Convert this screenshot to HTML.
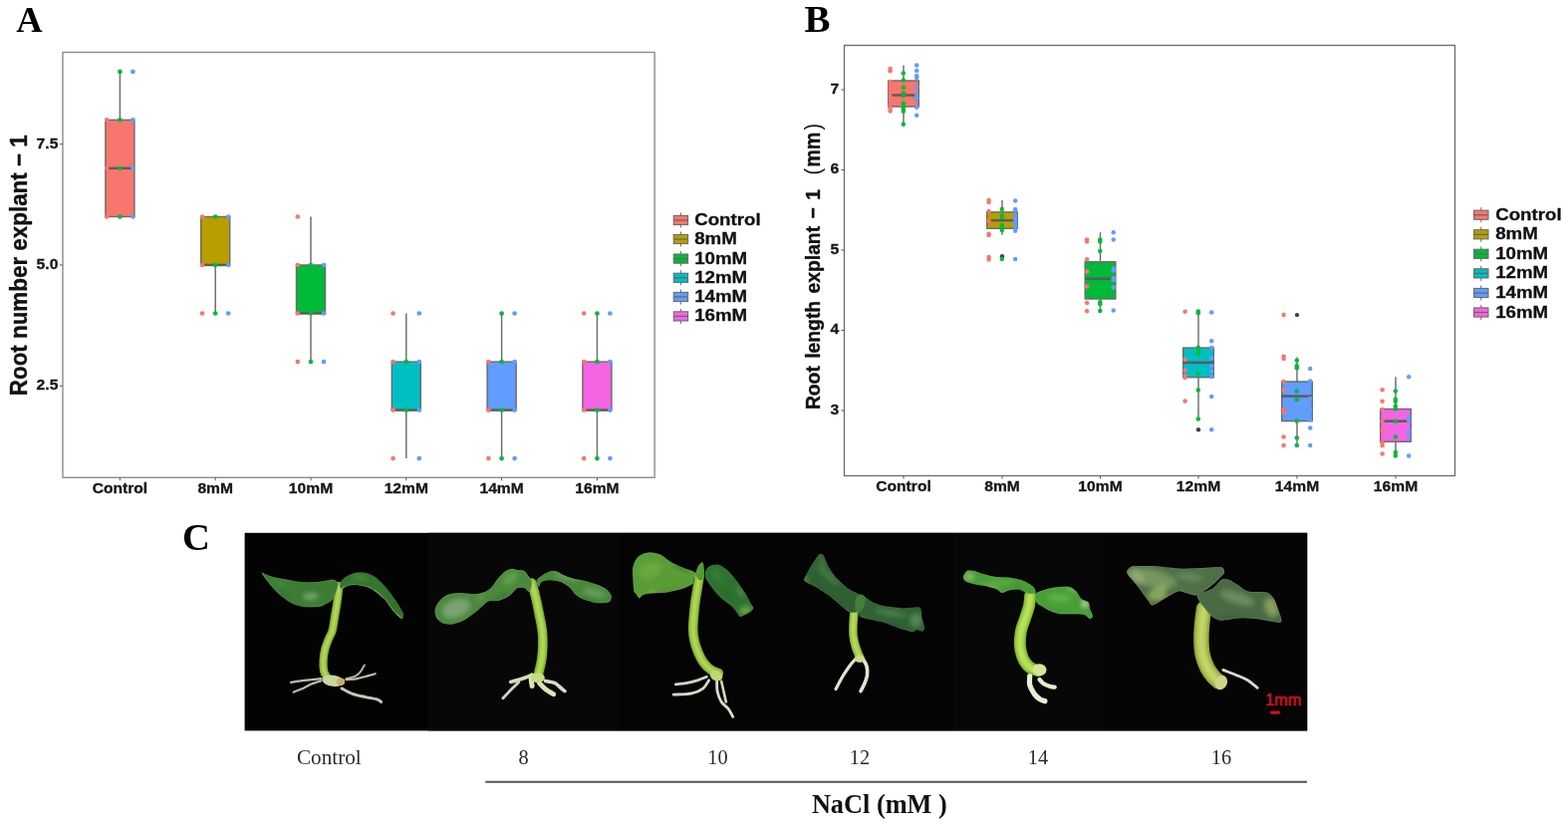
<!DOCTYPE html>
<html lang="en">
<head>
<meta charset="utf-8">
<title>Figure</title>
<style>
html,body{margin:0;padding:0;background:#fff;}
body{width:1574px;height:828px;overflow:hidden;}
svg{display:block;}
text{font-family:"Liberation Sans",sans-serif;fill:#111;}
.tk{font-size:15.1px;font-weight:bold;fill:#161616;stroke:#161616;stroke-width:0.3px;}
.xl{font-size:15.1px;font-weight:bold;fill:#161616;stroke:#161616;stroke-width:0.3px;}
.yl{font-size:22.4px;font-weight:bold;fill:#111;stroke:#111;stroke-width:0.35px;}
.lg{font-size:17px;font-weight:bold;fill:#111;stroke:#111;stroke-width:0.3px;}
.pl{font-family:"Liberation Serif",serif;font-size:37.5px;font-weight:bold;fill:#000;}
.cl{font-family:"Liberation Serif",serif;font-size:20.3px;fill:#2a2a2a;}
.na{font-family:"Liberation Serif",serif;font-size:26.3px;font-weight:bold;fill:#111;}
</style>
</head>
<body>
<svg width="1574" height="828" viewBox="0 0 1574 828">
<rect x="0" y="0" width="1574" height="828" fill="#ffffff"/>
<rect x="63" y="52.5" width="594.1" height="426.8" fill="#fff" stroke="#8c8c8c" stroke-width="1.4"/>
<line x1="120.4" y1="71.9" x2="120.4" y2="120.4" stroke="#6c6c6c" stroke-width="1.45"/>
<line x1="120.4" y1="217.5" x2="120.4" y2="217.5" stroke="#6c6c6c" stroke-width="1.45"/>
<rect x="105.9" y="120.4" width="29" height="97.1" fill="#F8766D" stroke="#6c6c6c" stroke-width="1.45"/>
<line x1="105.9" y1="168.9" x2="134.9" y2="168.9" stroke="#5c5c5c" stroke-width="2.4"/>
<line x1="216.2" y1="217.5" x2="216.2" y2="217.5" stroke="#6c6c6c" stroke-width="1.45"/>
<line x1="216.2" y1="266.0" x2="216.2" y2="314.5" stroke="#6c6c6c" stroke-width="1.45"/>
<rect x="201.7" y="217.5" width="29" height="48.5" fill="#B79F00" stroke="#6c6c6c" stroke-width="1.45"/>
<line x1="201.7" y1="266.0" x2="230.7" y2="266.0" stroke="#5c5c5c" stroke-width="2.4"/>
<line x1="312.0" y1="217.5" x2="312.0" y2="266.0" stroke="#6c6c6c" stroke-width="1.45"/>
<line x1="312.0" y1="314.5" x2="312.0" y2="363.1" stroke="#6c6c6c" stroke-width="1.45"/>
<rect x="297.5" y="266.0" width="29" height="48.5" fill="#00BA38" stroke="#6c6c6c" stroke-width="1.45"/>
<line x1="297.5" y1="314.5" x2="326.5" y2="314.5" stroke="#5c5c5c" stroke-width="2.4"/>
<line x1="407.8" y1="314.5" x2="407.8" y2="363.1" stroke="#6c6c6c" stroke-width="1.45"/>
<line x1="407.8" y1="411.6" x2="407.8" y2="460.1" stroke="#6c6c6c" stroke-width="1.45"/>
<rect x="393.3" y="363.1" width="29" height="48.5" fill="#00BFC4" stroke="#6c6c6c" stroke-width="1.45"/>
<line x1="393.3" y1="411.6" x2="422.3" y2="411.6" stroke="#5c5c5c" stroke-width="2.4"/>
<line x1="503.6" y1="314.5" x2="503.6" y2="363.1" stroke="#6c6c6c" stroke-width="1.45"/>
<line x1="503.6" y1="411.6" x2="503.6" y2="460.1" stroke="#6c6c6c" stroke-width="1.45"/>
<rect x="489.1" y="363.1" width="29" height="48.5" fill="#619CFF" stroke="#6c6c6c" stroke-width="1.45"/>
<line x1="489.1" y1="411.6" x2="518.1" y2="411.6" stroke="#5c5c5c" stroke-width="2.4"/>
<line x1="599.4" y1="314.5" x2="599.4" y2="363.1" stroke="#6c6c6c" stroke-width="1.45"/>
<line x1="599.4" y1="411.6" x2="599.4" y2="460.1" stroke="#6c6c6c" stroke-width="1.45"/>
<rect x="584.9" y="363.1" width="29" height="48.5" fill="#F564E3" stroke="#6c6c6c" stroke-width="1.45"/>
<line x1="584.9" y1="411.6" x2="613.9" y2="411.6" stroke="#5c5c5c" stroke-width="2.4"/>
<circle cx="107.2" cy="120.4" r="2.35" fill="#F8766D"/>
<circle cx="107.2" cy="168.9" r="2.35" fill="#F8766D"/>
<circle cx="107.2" cy="217.5" r="2.35" fill="#F8766D"/>
<circle cx="120.4" cy="71.9" r="2.35" fill="#00BA38"/>
<circle cx="120.4" cy="120.4" r="2.35" fill="#00BA38"/>
<circle cx="120.4" cy="168.9" r="2.35" fill="#00BA38"/>
<circle cx="120.4" cy="217.5" r="2.35" fill="#00BA38"/>
<circle cx="133.4" cy="71.9" r="2.35" fill="#619CFF"/>
<circle cx="133.4" cy="120.4" r="2.35" fill="#619CFF"/>
<circle cx="133.4" cy="168.9" r="2.35" fill="#619CFF"/>
<circle cx="133.4" cy="217.5" r="2.35" fill="#619CFF"/>
<circle cx="203.0" cy="217.5" r="2.35" fill="#F8766D"/>
<circle cx="203.0" cy="266.0" r="2.35" fill="#F8766D"/>
<circle cx="203.0" cy="314.5" r="2.35" fill="#F8766D"/>
<circle cx="216.2" cy="217.5" r="2.35" fill="#00BA38"/>
<circle cx="216.2" cy="266.0" r="2.35" fill="#00BA38"/>
<circle cx="216.2" cy="314.5" r="2.35" fill="#00BA38"/>
<circle cx="229.2" cy="217.5" r="2.35" fill="#619CFF"/>
<circle cx="229.2" cy="266.0" r="2.35" fill="#619CFF"/>
<circle cx="229.2" cy="314.5" r="2.35" fill="#619CFF"/>
<circle cx="298.8" cy="217.5" r="2.35" fill="#F8766D"/>
<circle cx="298.8" cy="266.0" r="2.35" fill="#F8766D"/>
<circle cx="298.8" cy="314.5" r="2.35" fill="#F8766D"/>
<circle cx="298.8" cy="363.1" r="2.35" fill="#F8766D"/>
<circle cx="312.0" cy="266.0" r="2.35" fill="#00BA38"/>
<circle cx="312.0" cy="314.5" r="2.35" fill="#00BA38"/>
<circle cx="312.0" cy="363.1" r="2.35" fill="#00BA38"/>
<circle cx="325.0" cy="266.0" r="2.35" fill="#619CFF"/>
<circle cx="325.0" cy="314.5" r="2.35" fill="#619CFF"/>
<circle cx="325.0" cy="363.1" r="2.35" fill="#619CFF"/>
<circle cx="394.6" cy="314.5" r="2.35" fill="#F8766D"/>
<circle cx="394.6" cy="363.1" r="2.35" fill="#F8766D"/>
<circle cx="394.6" cy="411.6" r="2.35" fill="#F8766D"/>
<circle cx="394.6" cy="460.1" r="2.35" fill="#F8766D"/>
<circle cx="407.8" cy="363.1" r="2.35" fill="#00BA38"/>
<circle cx="407.8" cy="411.6" r="2.35" fill="#00BA38"/>
<circle cx="420.8" cy="314.5" r="2.35" fill="#619CFF"/>
<circle cx="420.8" cy="363.1" r="2.35" fill="#619CFF"/>
<circle cx="420.8" cy="411.6" r="2.35" fill="#619CFF"/>
<circle cx="420.8" cy="460.1" r="2.35" fill="#619CFF"/>
<circle cx="490.4" cy="363.1" r="2.35" fill="#F8766D"/>
<circle cx="490.4" cy="411.6" r="2.35" fill="#F8766D"/>
<circle cx="490.4" cy="460.1" r="2.35" fill="#F8766D"/>
<circle cx="503.6" cy="314.5" r="2.35" fill="#00BA38"/>
<circle cx="503.6" cy="363.1" r="2.35" fill="#00BA38"/>
<circle cx="503.6" cy="411.6" r="2.35" fill="#00BA38"/>
<circle cx="503.6" cy="460.1" r="2.35" fill="#00BA38"/>
<circle cx="516.6" cy="314.5" r="2.35" fill="#619CFF"/>
<circle cx="516.6" cy="363.1" r="2.35" fill="#619CFF"/>
<circle cx="516.6" cy="411.6" r="2.35" fill="#619CFF"/>
<circle cx="516.6" cy="460.1" r="2.35" fill="#619CFF"/>
<circle cx="586.2" cy="314.5" r="2.35" fill="#F8766D"/>
<circle cx="586.2" cy="363.1" r="2.35" fill="#F8766D"/>
<circle cx="586.2" cy="411.6" r="2.35" fill="#F8766D"/>
<circle cx="586.2" cy="460.1" r="2.35" fill="#F8766D"/>
<circle cx="599.4" cy="314.5" r="2.35" fill="#00BA38"/>
<circle cx="599.4" cy="363.1" r="2.35" fill="#00BA38"/>
<circle cx="599.4" cy="411.6" r="2.35" fill="#00BA38"/>
<circle cx="599.4" cy="460.1" r="2.35" fill="#00BA38"/>
<circle cx="612.4" cy="314.5" r="2.35" fill="#619CFF"/>
<circle cx="612.4" cy="363.1" r="2.35" fill="#619CFF"/>
<circle cx="612.4" cy="411.6" r="2.35" fill="#619CFF"/>
<circle cx="612.4" cy="460.1" r="2.35" fill="#619CFF"/>
<line x1="60" y1="144.7" x2="63" y2="144.7" stroke="#555" stroke-width="1"/>
<text transform="translate(58.4,148.5) scale(1.04,1)" class="tk" text-anchor="end">7.5</text>
<line x1="60" y1="266.0" x2="63" y2="266.0" stroke="#555" stroke-width="1"/>
<text transform="translate(58.4,269.8) scale(1.04,1)" class="tk" text-anchor="end">5.0</text>
<line x1="60" y1="387.3" x2="63" y2="387.3" stroke="#555" stroke-width="1"/>
<text transform="translate(58.4,391.1) scale(1.04,1)" class="tk" text-anchor="end">2.5</text>
<line x1="120.4" y1="479.3" x2="120.4" y2="482.3" stroke="#555" stroke-width="1"/>
<text transform="translate(120.4,495.1) scale(1.035,1)" class="xl" text-anchor="middle">Control</text>
<line x1="216.2" y1="479.3" x2="216.2" y2="482.3" stroke="#555" stroke-width="1"/>
<text transform="translate(216.2,495.1) scale(1.035,1)" class="xl" text-anchor="middle">8mM</text>
<line x1="312.0" y1="479.3" x2="312.0" y2="482.3" stroke="#555" stroke-width="1"/>
<text transform="translate(312.0,495.1) scale(1.035,1)" class="xl" text-anchor="middle">10mM</text>
<line x1="407.8" y1="479.3" x2="407.8" y2="482.3" stroke="#555" stroke-width="1"/>
<text transform="translate(407.8,495.1) scale(1.035,1)" class="xl" text-anchor="middle">12mM</text>
<line x1="503.6" y1="479.3" x2="503.6" y2="482.3" stroke="#555" stroke-width="1"/>
<text transform="translate(503.6,495.1) scale(1.035,1)" class="xl" text-anchor="middle">14mM</text>
<line x1="599.4" y1="479.3" x2="599.4" y2="482.3" stroke="#555" stroke-width="1"/>
<text transform="translate(599.4,495.1) scale(1.035,1)" class="xl" text-anchor="middle">16mM</text>
<text transform="translate(26.6,397.2) rotate(-90) scale(1,1.07)" class="yl">Root number explant − 1</text>
<line x1="683.4000000000001" y1="213.5" x2="683.4000000000001" y2="228.5" stroke="#666" stroke-width="1"/>
<rect x="676.2" y="216.4" width="14.4" height="9.2" fill="#F8766D" stroke="#666" stroke-width="1"/>
<line x1="676.2" y1="221.0" x2="690.6" y2="221.0" stroke="#666" stroke-width="1.2"/>
<text transform="translate(697.2,226.0) scale(1.1,1)" class="lg">Control</text>
<line x1="683.4000000000001" y1="232.5" x2="683.4000000000001" y2="247.5" stroke="#666" stroke-width="1"/>
<rect x="676.2" y="235.4" width="14.4" height="9.2" fill="#B79F00" stroke="#666" stroke-width="1"/>
<line x1="676.2" y1="240.0" x2="690.6" y2="240.0" stroke="#666" stroke-width="1.2"/>
<text transform="translate(697.2,245.0) scale(1.1,1)" class="lg">8mM</text>
<line x1="683.4000000000001" y1="252.1" x2="683.4000000000001" y2="267.1" stroke="#666" stroke-width="1"/>
<rect x="676.2" y="255.0" width="14.4" height="9.2" fill="#00BA38" stroke="#666" stroke-width="1"/>
<line x1="676.2" y1="259.6" x2="690.6" y2="259.6" stroke="#666" stroke-width="1.2"/>
<text transform="translate(697.2,264.6) scale(1.1,1)" class="lg">10mM</text>
<line x1="683.4000000000001" y1="271.3" x2="683.4000000000001" y2="286.3" stroke="#666" stroke-width="1"/>
<rect x="676.2" y="274.2" width="14.4" height="9.2" fill="#00BFC4" stroke="#666" stroke-width="1"/>
<line x1="676.2" y1="278.8" x2="690.6" y2="278.8" stroke="#666" stroke-width="1.2"/>
<text transform="translate(697.2,283.8) scale(1.1,1)" class="lg">12mM</text>
<line x1="683.4000000000001" y1="290.5" x2="683.4000000000001" y2="305.5" stroke="#666" stroke-width="1"/>
<rect x="676.2" y="293.4" width="14.4" height="9.2" fill="#619CFF" stroke="#666" stroke-width="1"/>
<line x1="676.2" y1="298.0" x2="690.6" y2="298.0" stroke="#666" stroke-width="1.2"/>
<text transform="translate(697.2,303.0) scale(1.1,1)" class="lg">14mM</text>
<line x1="683.4000000000001" y1="309.9" x2="683.4000000000001" y2="324.9" stroke="#666" stroke-width="1"/>
<rect x="676.2" y="312.8" width="14.4" height="9.2" fill="#F564E3" stroke="#666" stroke-width="1"/>
<line x1="676.2" y1="317.4" x2="690.6" y2="317.4" stroke="#666" stroke-width="1.2"/>
<text transform="translate(697.2,322.4) scale(1.1,1)" class="lg">16mM</text>
<rect x="847.5" y="45.5" width="613.0" height="432.0" fill="#fff" stroke="#6e6e6e" stroke-width="1.35"/>
<line x1="907.0" y1="65.4" x2="907.0" y2="81.0" stroke="#6c6c6c" stroke-width="1.45"/>
<line x1="907.0" y1="107.0" x2="907.0" y2="124.8" stroke="#6c6c6c" stroke-width="1.45"/>
<rect x="891.7" y="81.0" width="30.6" height="26.0" fill="#F8766D" stroke="#6c6c6c" stroke-width="1.45"/>
<line x1="891.7" y1="95.5" x2="922.3" y2="95.5" stroke="#5c5c5c" stroke-width="2.5"/>
<line x1="1006.0" y1="201.0" x2="1006.0" y2="212.9" stroke="#6c6c6c" stroke-width="1.45"/>
<line x1="1006.0" y1="229.3" x2="1006.0" y2="235.7" stroke="#6c6c6c" stroke-width="1.45"/>
<rect x="990.7" y="212.9" width="30.6" height="16.4" fill="#B79F00" stroke="#6c6c6c" stroke-width="1.45"/>
<line x1="990.7" y1="221.2" x2="1021.3" y2="221.2" stroke="#5c5c5c" stroke-width="2.5"/>
<line x1="1104.5" y1="233.2" x2="1104.5" y2="262.8" stroke="#6c6c6c" stroke-width="1.45"/>
<line x1="1104.5" y1="300.0" x2="1104.5" y2="312.0" stroke="#6c6c6c" stroke-width="1.45"/>
<rect x="1089.2" y="262.8" width="30.6" height="37.2" fill="#00BA38" stroke="#6c6c6c" stroke-width="1.45"/>
<line x1="1089.2" y1="279.8" x2="1119.8" y2="279.8" stroke="#5c5c5c" stroke-width="2.5"/>
<line x1="1203.0" y1="312.8" x2="1203.0" y2="349.1" stroke="#6c6c6c" stroke-width="1.45"/>
<line x1="1203.0" y1="378.7" x2="1203.0" y2="420.4" stroke="#6c6c6c" stroke-width="1.45"/>
<rect x="1187.7" y="349.1" width="30.6" height="29.6" fill="#00BFC4" stroke="#6c6c6c" stroke-width="1.45"/>
<line x1="1187.7" y1="363.9" x2="1218.3" y2="363.9" stroke="#5c5c5c" stroke-width="2.5"/>
<line x1="1302.0" y1="358.5" x2="1302.0" y2="383.0" stroke="#6c6c6c" stroke-width="1.45"/>
<line x1="1302.0" y1="422.6" x2="1302.0" y2="447.2" stroke="#6c6c6c" stroke-width="1.45"/>
<rect x="1286.7" y="383.0" width="30.6" height="39.6" fill="#619CFF" stroke="#6c6c6c" stroke-width="1.45"/>
<line x1="1286.7" y1="397.6" x2="1317.3" y2="397.6" stroke="#5c5c5c" stroke-width="2.5"/>
<line x1="1401.0" y1="378.2" x2="1401.0" y2="410.5" stroke="#6c6c6c" stroke-width="1.45"/>
<line x1="1401.0" y1="443.3" x2="1401.0" y2="457.8" stroke="#6c6c6c" stroke-width="1.45"/>
<rect x="1385.7" y="410.5" width="30.6" height="32.8" fill="#F564E3" stroke="#6c6c6c" stroke-width="1.45"/>
<line x1="1385.7" y1="422.7" x2="1416.3" y2="422.7" stroke="#5c5c5c" stroke-width="2.5"/>
<circle cx="893.6" cy="69.0" r="2.25" fill="#F8766D"/>
<circle cx="893.6" cy="71.2" r="2.25" fill="#F8766D"/>
<circle cx="893.6" cy="82.0" r="2.25" fill="#F8766D"/>
<circle cx="893.6" cy="85.0" r="2.25" fill="#F8766D"/>
<circle cx="893.6" cy="89.0" r="2.25" fill="#F8766D"/>
<circle cx="893.6" cy="93.0" r="2.25" fill="#F8766D"/>
<circle cx="893.6" cy="97.0" r="2.25" fill="#F8766D"/>
<circle cx="893.6" cy="101.0" r="2.25" fill="#F8766D"/>
<circle cx="893.6" cy="105.0" r="2.25" fill="#F8766D"/>
<circle cx="893.6" cy="109.0" r="2.25" fill="#F8766D"/>
<circle cx="893.6" cy="111.5" r="2.25" fill="#F8766D"/>
<circle cx="906.8" cy="73.6" r="2.25" fill="#00BA38"/>
<circle cx="906.8" cy="80.6" r="2.25" fill="#00BA38"/>
<circle cx="906.8" cy="87.8" r="2.25" fill="#00BA38"/>
<circle cx="906.8" cy="93.6" r="2.25" fill="#00BA38"/>
<circle cx="906.8" cy="95.8" r="2.25" fill="#00BA38"/>
<circle cx="906.8" cy="103.8" r="2.25" fill="#00BA38"/>
<circle cx="906.8" cy="106.7" r="2.25" fill="#00BA38"/>
<circle cx="906.8" cy="109.6" r="2.25" fill="#00BA38"/>
<circle cx="906.8" cy="111.7" r="2.25" fill="#00BA38"/>
<circle cx="906.8" cy="124.8" r="2.25" fill="#00BA38"/>
<circle cx="920.2" cy="65.4" r="2.25" fill="#619CFF"/>
<circle cx="920.2" cy="70.9" r="2.25" fill="#619CFF"/>
<circle cx="920.2" cy="76.2" r="2.25" fill="#619CFF"/>
<circle cx="920.2" cy="78.0" r="2.25" fill="#619CFF"/>
<circle cx="920.2" cy="87.5" r="2.25" fill="#619CFF"/>
<circle cx="920.2" cy="95.0" r="2.25" fill="#619CFF"/>
<circle cx="920.2" cy="98.0" r="2.25" fill="#619CFF"/>
<circle cx="920.2" cy="99.4" r="2.25" fill="#619CFF"/>
<circle cx="920.2" cy="107.8" r="2.25" fill="#619CFF"/>
<circle cx="920.2" cy="115.8" r="2.25" fill="#619CFF"/>
<circle cx="1006.0" cy="257.3" r="2.2" fill="#444"/>
<circle cx="992.6" cy="201.0" r="2.25" fill="#F8766D"/>
<circle cx="992.6" cy="203.0" r="2.25" fill="#F8766D"/>
<circle cx="992.6" cy="212.0" r="2.25" fill="#F8766D"/>
<circle cx="992.6" cy="221.8" r="2.25" fill="#F8766D"/>
<circle cx="992.6" cy="234.7" r="2.25" fill="#F8766D"/>
<circle cx="992.6" cy="236.0" r="2.25" fill="#F8766D"/>
<circle cx="992.6" cy="258.0" r="2.25" fill="#F8766D"/>
<circle cx="992.6" cy="260.4" r="2.25" fill="#F8766D"/>
<circle cx="1005.8" cy="210.0" r="2.25" fill="#00BA38"/>
<circle cx="1005.8" cy="216.4" r="2.25" fill="#00BA38"/>
<circle cx="1005.8" cy="218.0" r="2.25" fill="#00BA38"/>
<circle cx="1005.8" cy="226.0" r="2.25" fill="#00BA38"/>
<circle cx="1005.8" cy="228.0" r="2.25" fill="#00BA38"/>
<circle cx="1005.8" cy="231.0" r="2.25" fill="#00BA38"/>
<circle cx="1005.8" cy="259.9" r="2.25" fill="#00BA38"/>
<circle cx="1019.2" cy="201.5" r="2.25" fill="#619CFF"/>
<circle cx="1019.2" cy="210.0" r="2.25" fill="#619CFF"/>
<circle cx="1019.2" cy="211.5" r="2.25" fill="#619CFF"/>
<circle cx="1019.2" cy="216.4" r="2.25" fill="#619CFF"/>
<circle cx="1019.2" cy="219.0" r="2.25" fill="#619CFF"/>
<circle cx="1019.2" cy="222.0" r="2.25" fill="#619CFF"/>
<circle cx="1019.2" cy="225.0" r="2.25" fill="#619CFF"/>
<circle cx="1019.2" cy="228.0" r="2.25" fill="#619CFF"/>
<circle cx="1019.2" cy="231.8" r="2.25" fill="#619CFF"/>
<circle cx="1019.2" cy="259.9" r="2.25" fill="#619CFF"/>
<circle cx="1091.1" cy="240.5" r="2.25" fill="#F8766D"/>
<circle cx="1091.1" cy="242.5" r="2.25" fill="#F8766D"/>
<circle cx="1091.1" cy="260.2" r="2.25" fill="#F8766D"/>
<circle cx="1091.1" cy="272.4" r="2.25" fill="#F8766D"/>
<circle cx="1091.1" cy="287.5" r="2.25" fill="#F8766D"/>
<circle cx="1091.1" cy="303.9" r="2.25" fill="#F8766D"/>
<circle cx="1091.1" cy="312.2" r="2.25" fill="#F8766D"/>
<circle cx="1104.3" cy="240.5" r="2.25" fill="#00BA38"/>
<circle cx="1104.3" cy="242.5" r="2.25" fill="#00BA38"/>
<circle cx="1104.3" cy="252.1" r="2.25" fill="#00BA38"/>
<circle cx="1104.3" cy="303.3" r="2.25" fill="#00BA38"/>
<circle cx="1104.3" cy="305.3" r="2.25" fill="#00BA38"/>
<circle cx="1104.3" cy="312.0" r="2.25" fill="#00BA38"/>
<circle cx="1117.7" cy="233.2" r="2.25" fill="#619CFF"/>
<circle cx="1117.7" cy="240.5" r="2.25" fill="#619CFF"/>
<circle cx="1117.7" cy="269.5" r="2.25" fill="#619CFF"/>
<circle cx="1117.7" cy="271.4" r="2.25" fill="#619CFF"/>
<circle cx="1117.7" cy="279.2" r="2.25" fill="#619CFF"/>
<circle cx="1117.7" cy="281.1" r="2.25" fill="#619CFF"/>
<circle cx="1117.7" cy="288.5" r="2.25" fill="#619CFF"/>
<circle cx="1117.7" cy="311.4" r="2.25" fill="#619CFF"/>
<circle cx="1203.0" cy="431.3" r="2.2" fill="#444"/>
<circle cx="1189.6" cy="312.8" r="2.25" fill="#F8766D"/>
<circle cx="1189.6" cy="360.7" r="2.25" fill="#F8766D"/>
<circle cx="1189.6" cy="371.5" r="2.25" fill="#F8766D"/>
<circle cx="1189.6" cy="377.0" r="2.25" fill="#F8766D"/>
<circle cx="1189.6" cy="379.1" r="2.25" fill="#F8766D"/>
<circle cx="1189.6" cy="402.4" r="2.25" fill="#F8766D"/>
<circle cx="1202.8" cy="312.4" r="2.25" fill="#00BA38"/>
<circle cx="1202.8" cy="314.3" r="2.25" fill="#00BA38"/>
<circle cx="1202.8" cy="348.7" r="2.25" fill="#00BA38"/>
<circle cx="1202.8" cy="353.0" r="2.25" fill="#00BA38"/>
<circle cx="1202.8" cy="355.2" r="2.25" fill="#00BA38"/>
<circle cx="1202.8" cy="374.8" r="2.25" fill="#00BA38"/>
<circle cx="1202.8" cy="391.5" r="2.25" fill="#00BA38"/>
<circle cx="1202.8" cy="420.4" r="2.25" fill="#00BA38"/>
<circle cx="1216.2" cy="313.5" r="2.25" fill="#619CFF"/>
<circle cx="1216.2" cy="342.2" r="2.25" fill="#619CFF"/>
<circle cx="1216.2" cy="349.1" r="2.25" fill="#619CFF"/>
<circle cx="1216.2" cy="359.6" r="2.25" fill="#619CFF"/>
<circle cx="1216.2" cy="367.2" r="2.25" fill="#619CFF"/>
<circle cx="1216.2" cy="372.6" r="2.25" fill="#619CFF"/>
<circle cx="1216.2" cy="378.0" r="2.25" fill="#619CFF"/>
<circle cx="1216.2" cy="398.0" r="2.25" fill="#619CFF"/>
<circle cx="1216.2" cy="431.3" r="2.25" fill="#619CFF"/>
<circle cx="1302.0" cy="316.1" r="2.2" fill="#444"/>
<circle cx="1288.6" cy="316.1" r="2.25" fill="#F8766D"/>
<circle cx="1288.6" cy="357.8" r="2.25" fill="#F8766D"/>
<circle cx="1288.6" cy="360.0" r="2.25" fill="#F8766D"/>
<circle cx="1288.6" cy="383.0" r="2.25" fill="#F8766D"/>
<circle cx="1288.6" cy="391.1" r="2.25" fill="#F8766D"/>
<circle cx="1288.6" cy="410.7" r="2.25" fill="#F8766D"/>
<circle cx="1288.6" cy="413.9" r="2.25" fill="#F8766D"/>
<circle cx="1288.6" cy="438.5" r="2.25" fill="#F8766D"/>
<circle cx="1288.6" cy="447.0" r="2.25" fill="#F8766D"/>
<circle cx="1301.8" cy="361.7" r="2.25" fill="#00BA38"/>
<circle cx="1301.8" cy="367.2" r="2.25" fill="#00BA38"/>
<circle cx="1301.8" cy="369.3" r="2.25" fill="#00BA38"/>
<circle cx="1301.8" cy="392.6" r="2.25" fill="#00BA38"/>
<circle cx="1301.8" cy="401.3" r="2.25" fill="#00BA38"/>
<circle cx="1301.8" cy="422.6" r="2.25" fill="#00BA38"/>
<circle cx="1301.8" cy="439.6" r="2.25" fill="#00BA38"/>
<circle cx="1301.8" cy="447.0" r="2.25" fill="#00BA38"/>
<circle cx="1315.2" cy="370.0" r="2.25" fill="#619CFF"/>
<circle cx="1315.2" cy="382.5" r="2.25" fill="#619CFF"/>
<circle cx="1315.2" cy="400.0" r="2.25" fill="#619CFF"/>
<circle cx="1315.2" cy="412.0" r="2.25" fill="#619CFF"/>
<circle cx="1315.2" cy="421.5" r="2.25" fill="#619CFF"/>
<circle cx="1315.2" cy="429.6" r="2.25" fill="#619CFF"/>
<circle cx="1315.2" cy="447.0" r="2.25" fill="#619CFF"/>
<circle cx="1387.6" cy="391.2" r="2.25" fill="#F8766D"/>
<circle cx="1387.6" cy="402.8" r="2.25" fill="#F8766D"/>
<circle cx="1387.6" cy="411.0" r="2.25" fill="#F8766D"/>
<circle cx="1387.6" cy="422.7" r="2.25" fill="#F8766D"/>
<circle cx="1387.6" cy="431.7" r="2.25" fill="#F8766D"/>
<circle cx="1387.6" cy="444.3" r="2.25" fill="#F8766D"/>
<circle cx="1387.6" cy="447.2" r="2.25" fill="#F8766D"/>
<circle cx="1387.6" cy="455.5" r="2.25" fill="#F8766D"/>
<circle cx="1400.8" cy="392.5" r="2.25" fill="#00BA38"/>
<circle cx="1400.8" cy="400.8" r="2.25" fill="#00BA38"/>
<circle cx="1400.8" cy="402.8" r="2.25" fill="#00BA38"/>
<circle cx="1400.8" cy="407.6" r="2.25" fill="#00BA38"/>
<circle cx="1400.8" cy="410.5" r="2.25" fill="#00BA38"/>
<circle cx="1400.8" cy="422.7" r="2.25" fill="#00BA38"/>
<circle cx="1400.8" cy="438.5" r="2.25" fill="#00BA38"/>
<circle cx="1400.8" cy="454.0" r="2.25" fill="#00BA38"/>
<circle cx="1400.8" cy="457.4" r="2.25" fill="#00BA38"/>
<circle cx="1414.2" cy="378.2" r="2.25" fill="#619CFF"/>
<circle cx="1414.2" cy="418.0" r="2.25" fill="#619CFF"/>
<circle cx="1414.2" cy="423.0" r="2.25" fill="#619CFF"/>
<circle cx="1414.2" cy="432.7" r="2.25" fill="#619CFF"/>
<circle cx="1414.2" cy="438.5" r="2.25" fill="#619CFF"/>
<circle cx="1414.2" cy="457.4" r="2.25" fill="#619CFF"/>
<line x1="844.5" y1="90.0" x2="847.5" y2="90.0" stroke="#555" stroke-width="1"/>
<text transform="translate(842.2,93.8) scale(1.04,1)" class="tk" text-anchor="end">7</text>
<line x1="844.5" y1="170.5" x2="847.5" y2="170.5" stroke="#555" stroke-width="1"/>
<text transform="translate(842.2,174.3) scale(1.04,1)" class="tk" text-anchor="end">6</text>
<line x1="844.5" y1="251.0" x2="847.5" y2="251.0" stroke="#555" stroke-width="1"/>
<text transform="translate(842.2,254.8) scale(1.04,1)" class="tk" text-anchor="end">5</text>
<line x1="844.5" y1="331.5" x2="847.5" y2="331.5" stroke="#555" stroke-width="1"/>
<text transform="translate(842.2,335.3) scale(1.04,1)" class="tk" text-anchor="end">4</text>
<line x1="844.5" y1="412.0" x2="847.5" y2="412.0" stroke="#555" stroke-width="1"/>
<text transform="translate(842.2,415.8) scale(1.04,1)" class="tk" text-anchor="end">3</text>
<line x1="907" y1="477.5" x2="907" y2="480.5" stroke="#555" stroke-width="1"/>
<text transform="translate(907,492.7) scale(1.035,1)" class="xl" text-anchor="middle">Control</text>
<line x1="1006" y1="477.5" x2="1006" y2="480.5" stroke="#555" stroke-width="1"/>
<text transform="translate(1006,492.7) scale(1.035,1)" class="xl" text-anchor="middle">8mM</text>
<line x1="1104.5" y1="477.5" x2="1104.5" y2="480.5" stroke="#555" stroke-width="1"/>
<text transform="translate(1104.5,492.7) scale(1.035,1)" class="xl" text-anchor="middle">10mM</text>
<line x1="1203" y1="477.5" x2="1203" y2="480.5" stroke="#555" stroke-width="1"/>
<text transform="translate(1203,492.7) scale(1.035,1)" class="xl" text-anchor="middle">12mM</text>
<line x1="1302" y1="477.5" x2="1302" y2="480.5" stroke="#555" stroke-width="1"/>
<text transform="translate(1302,492.7) scale(1.035,1)" class="xl" text-anchor="middle">14mM</text>
<line x1="1401" y1="477.5" x2="1401" y2="480.5" stroke="#555" stroke-width="1"/>
<text transform="translate(1401,492.7) scale(1.035,1)" class="xl" text-anchor="middle">16mM</text>
<text transform="translate(822.6,411.1) rotate(-90) scale(1,1.07)" class="yl" style="font-size:19.3px;word-spacing:2.1px">Root length explant − 1</text>
<text transform="translate(822.6,175.4) rotate(-90) scale(1,1.07)" class="yl" style="font-size:19.8px"><tspan style="font-weight:normal;stroke:none">(</tspan><tspan dx="1">mm</tspan><tspan dx="2.2" style="font-weight:normal;stroke:none">)</tspan></text>
<line x1="1486.8" y1="208.2" x2="1486.8" y2="223.2" stroke="#666" stroke-width="1"/>
<rect x="1479.6" y="211.1" width="14.4" height="9.2" fill="#F8766D" stroke="#666" stroke-width="1"/>
<line x1="1479.6" y1="215.7" x2="1494.0" y2="215.7" stroke="#666" stroke-width="1.2"/>
<text transform="translate(1501.2,220.7) scale(1.1,1)" class="lg">Control</text>
<line x1="1486.8" y1="227.8" x2="1486.8" y2="242.8" stroke="#666" stroke-width="1"/>
<rect x="1479.6" y="230.7" width="14.4" height="9.2" fill="#B79F00" stroke="#666" stroke-width="1"/>
<line x1="1479.6" y1="235.3" x2="1494.0" y2="235.3" stroke="#666" stroke-width="1.2"/>
<text transform="translate(1501.2,240.3) scale(1.1,1)" class="lg">8mM</text>
<line x1="1486.8" y1="247.3" x2="1486.8" y2="262.3" stroke="#666" stroke-width="1"/>
<rect x="1479.6" y="250.2" width="14.4" height="9.2" fill="#00BA38" stroke="#666" stroke-width="1"/>
<line x1="1479.6" y1="254.8" x2="1494.0" y2="254.8" stroke="#666" stroke-width="1.2"/>
<text transform="translate(1501.2,259.8) scale(1.1,1)" class="lg">10mM</text>
<line x1="1486.8" y1="266.9" x2="1486.8" y2="281.9" stroke="#666" stroke-width="1"/>
<rect x="1479.6" y="269.8" width="14.4" height="9.2" fill="#00BFC4" stroke="#666" stroke-width="1"/>
<line x1="1479.6" y1="274.4" x2="1494.0" y2="274.4" stroke="#666" stroke-width="1.2"/>
<text transform="translate(1501.2,279.4) scale(1.1,1)" class="lg">12mM</text>
<line x1="1486.8" y1="286.5" x2="1486.8" y2="301.5" stroke="#666" stroke-width="1"/>
<rect x="1479.6" y="289.4" width="14.4" height="9.2" fill="#619CFF" stroke="#666" stroke-width="1"/>
<line x1="1479.6" y1="294.0" x2="1494.0" y2="294.0" stroke="#666" stroke-width="1.2"/>
<text transform="translate(1501.2,299.0) scale(1.1,1)" class="lg">14mM</text>
<line x1="1486.8" y1="306.0" x2="1486.8" y2="321.0" stroke="#666" stroke-width="1"/>
<rect x="1479.6" y="308.9" width="14.4" height="9.2" fill="#F564E3" stroke="#666" stroke-width="1"/>
<line x1="1479.6" y1="313.5" x2="1494.0" y2="313.5" stroke="#666" stroke-width="1.2"/>
<text transform="translate(1501.2,318.5) scale(1.1,1)" class="lg">16mM</text>
<text x="16.2" y="32" class="pl" style="font-size:36.5px">A</text>
<text transform="translate(807.4,31.6) scale(1.04,1)" class="pl">B</text>
<text x="183" y="551.8" class="pl" style="font-size:38.6px">C</text>
<rect x="245.6" y="534.8" width="1066.6" height="198.6" fill="#030303"/>
<defs>
<filter id="soft" x="-5%" y="-5%" width="110%" height="110%"><feGaussianBlur stdDeviation="0.65"/></filter>
<filter id="hl" x="-40%" y="-40%" width="180%" height="180%"><feGaussianBlur stdDeviation="2.6"/></filter>
<filter id="hs" x="-40%" y="-40%" width="180%" height="180%"><feGaussianBlur stdDeviation="1.0"/></filter>
</defs>
<rect x="430" y="534.8" width="192" height="198.6" fill="#070707"/>
<rect x="622" y="534.8" width="335" height="198.6" fill="#040404"/>
<rect x="957" y="534.8" width="150" height="198.6" fill="#070707"/>
<rect x="1107" y="534.8" width="205.2" height="198.6" fill="#050505"/>
<g filter="url(#soft)">
<path d="M340.4,588.0 C340.1,590.3 339.5,597.0 338.8,602.0 C338.1,607.0 337.1,612.8 336.2,618.0 C335.3,623.2 334.6,629.2 333.6,633.0 C332.6,636.8 331.2,637.7 330.0,640.9 C328.8,644.0 327.1,648.1 326.2,651.7 C325.3,655.4 324.7,659.0 324.6,662.6 C324.4,666.2 324.6,670.8 325.1,673.5 C325.7,676.2 327.4,678.0 327.8,678.9" fill="none" stroke="#7aa236" stroke-width="8.0" stroke-linecap="round"/><path d="M340.4,588.0 C340.1,590.3 339.5,597.0 338.8,602.0 C338.1,607.0 337.1,612.8 336.2,618.0 C335.3,623.2 334.6,629.2 333.6,633.0 C332.6,636.8 331.2,637.7 330.0,640.9 C328.8,644.0 327.1,648.1 326.2,651.7 C325.3,655.4 324.7,659.0 324.6,662.6 C324.4,666.2 324.6,670.8 325.1,673.5 C325.7,676.2 327.4,678.0 327.8,678.9" fill="none" stroke="#a2cc48" stroke-width="5.9" stroke-linecap="round" filter="url(#hs)"/><path d="M340.4,588.0 C340.1,590.3 339.5,597.0 338.8,602.0 C338.1,607.0 337.1,612.8 336.2,618.0 C335.3,623.2 334.6,629.2 333.6,633.0 C332.6,636.8 331.2,637.7 330.0,640.9 C328.8,644.0 327.1,648.1 326.2,651.7 C325.3,655.4 324.7,659.0 324.6,662.6 C324.4,666.2 324.6,670.8 325.1,673.5 C325.7,676.2 327.4,678.0 327.8,678.9" fill="none" stroke="#c8e274" stroke-width="2.4" stroke-linecap="round" opacity="0.55" filter="url(#hs)"/><clipPath id="c1"><path d="M263.1,574.7 C264.0,574.5 268.1,577.3 271.3,578.2 C274.4,579.1 280.9,580.4 285.5,581.3 C290.0,582.1 298.8,584.0 303.8,584.3 C308.8,584.7 316.8,584.2 321.1,583.8 C325.3,583.4 331.7,581.4 334.3,581.8 C336.8,582.1 339.2,583.9 339.3,586.3 C339.5,588.8 336.6,597.0 335.3,599.6 C334.0,602.1 332.2,603.4 330.2,604.6 C328.2,605.9 324.2,608.1 321.1,608.7 C317.9,609.3 311.4,609.5 307.8,609.2 C304.3,608.9 298.8,607.9 295.7,606.7 C292.5,605.5 288.3,602.7 285.5,600.6 C282.6,598.4 278.2,594.4 275.3,591.4 C272.5,588.4 266.9,581.6 265.2,579.2 C263.5,576.9 262.3,574.8 263.1,574.7 Z"/></clipPath><path d="M263.1,574.7 C264.0,574.5 268.1,577.3 271.3,578.2 C274.4,579.1 280.9,580.4 285.5,581.3 C290.0,582.1 298.8,584.0 303.8,584.3 C308.8,584.7 316.8,584.2 321.1,583.8 C325.3,583.4 331.7,581.4 334.3,581.8 C336.8,582.1 339.2,583.9 339.3,586.3 C339.5,588.8 336.6,597.0 335.3,599.6 C334.0,602.1 332.2,603.4 330.2,604.6 C328.2,605.9 324.2,608.1 321.1,608.7 C317.9,609.3 311.4,609.5 307.8,609.2 C304.3,608.9 298.8,607.9 295.7,606.7 C292.5,605.5 288.3,602.7 285.5,600.6 C282.6,598.4 278.2,594.4 275.3,591.4 C272.5,588.4 266.9,581.6 265.2,579.2 C263.5,576.9 262.3,574.8 263.1,574.7 Z" fill="#3c7c34"/><g clip-path="url(#c1)"><ellipse cx="311.9" cy="598.5" rx="8" ry="3.4" fill="#9cc8a0" opacity="0.58" transform="rotate(-5 311.9 598.5)" filter="url(#hl)"/><ellipse cx="280.4" cy="585.3" rx="9" ry="2.4" fill="#5a9c40" opacity="0.50" transform="rotate(22 280.4 585.3)" filter="url(#hl)"/><ellipse cx="285.5" cy="598.5" rx="8" ry="2.5" fill="#2f6a28" opacity="0.50" transform="rotate(35 285.5 598.5)" filter="url(#hl)"/><path d="M263.1,574.7 C264.0,574.5 268.1,577.3 271.3,578.2 C274.4,579.1 280.9,580.4 285.5,581.3 C290.0,582.1 298.8,584.0 303.8,584.3 C308.8,584.7 316.8,584.2 321.1,583.8 C325.3,583.4 331.7,581.4 334.3,581.8 C336.8,582.1 339.2,583.9 339.3,586.3 C339.5,588.8 336.6,597.0 335.3,599.6 C334.0,602.1 332.2,603.4 330.2,604.6 C328.2,605.9 324.2,608.1 321.1,608.7 C317.9,609.3 311.4,609.5 307.8,609.2 C304.3,608.9 298.8,607.9 295.7,606.7 C292.5,605.5 288.3,602.7 285.5,600.6 C282.6,598.4 278.2,594.4 275.3,591.4 C272.5,588.4 266.9,581.6 265.2,579.2 C263.5,576.9 262.3,574.8 263.1,574.7 Z" fill="none" stroke="#86b85a" stroke-width="1.2" opacity="0.4"/></g><clipPath id="c2"><path d="M341.4,585.3 C342.0,583.6 344.3,580.7 346.5,579.2 C348.6,577.7 353.8,575.3 356.6,574.7 C359.5,574.0 363.9,574.0 366.8,574.7 C369.6,575.3 373.8,576.9 377.0,579.2 C380.1,581.6 386.0,587.7 389.1,591.4 C392.3,595.1 397.1,602.2 399.3,605.7 C401.5,609.1 404.3,613.7 404.9,615.8 C405.5,617.9 404.7,621.2 403.4,620.9 C402.0,620.6 397.8,616.6 395.2,613.8 C392.7,610.9 388.4,603.8 385.1,600.6 C381.8,597.3 375.9,592.3 371.9,590.4 C367.9,588.5 360.2,587.1 356.6,586.8 C353.1,586.6 348.5,588.2 346.5,588.9 C344.5,589.5 343.1,591.9 342.4,591.4 C341.7,590.9 340.8,587.0 341.4,585.3 Z"/></clipPath><path d="M341.4,585.3 C342.0,583.6 344.3,580.7 346.5,579.2 C348.6,577.7 353.8,575.3 356.6,574.7 C359.5,574.0 363.9,574.0 366.8,574.7 C369.6,575.3 373.8,576.9 377.0,579.2 C380.1,581.6 386.0,587.7 389.1,591.4 C392.3,595.1 397.1,602.2 399.3,605.7 C401.5,609.1 404.3,613.7 404.9,615.8 C405.5,617.9 404.7,621.2 403.4,620.9 C402.0,620.6 397.8,616.6 395.2,613.8 C392.7,610.9 388.4,603.8 385.1,600.6 C381.8,597.3 375.9,592.3 371.9,590.4 C367.9,588.5 360.2,587.1 356.6,586.8 C353.1,586.6 348.5,588.2 346.5,588.9 C344.5,589.5 343.1,591.9 342.4,591.4 C341.7,590.9 340.8,587.0 341.4,585.3 Z" fill="#34742d"/><g clip-path="url(#c2)"><ellipse cx="361.7" cy="580.2" rx="9" ry="2.6" fill="#5a9c44" opacity="0.58" transform="rotate(8 361.7 580.2)" filter="url(#hl)"/><ellipse cx="395.2" cy="605.7" rx="7" ry="2" fill="#2f6c28" opacity="0.50" transform="rotate(55 395.2 605.7)" filter="url(#hl)"/><path d="M342.4,591.6 C343.0,591.3 344.5,589.8 346.5,589.2 C348.5,588.6 353.1,586.9 356.6,587.2 C360.2,587.4 367.9,588.9 371.9,590.8 C375.9,592.7 381.8,597.7 385.1,601.0 C388.4,604.2 392.7,611.4 395.2,614.2 C397.8,617.0 402.2,620.1 403.4,621.1" fill="none" stroke="#b0cc88" stroke-width="1.6" opacity="0.9"/></g><path d="M322.4,681.1 C320.8,681.3 316.1,681.8 312.6,682.2 C309.2,682.5 305.2,682.8 301.7,683.3 C298.3,683.7 293.6,684.6 292.0,684.9" fill="none" stroke="#bcbcaa" stroke-width="2.2" stroke-linecap="round" stroke-linejoin="round"/><path d="M322.4,683.3 C320.8,683.8 315.7,685.3 312.6,686.5 C309.5,687.8 306.9,689.5 303.9,690.9 C300.9,692.2 296.2,694.0 294.7,694.7" fill="none" stroke="#b8b8a6" stroke-width="2.2" stroke-linecap="round" stroke-linejoin="round"/><path d="M347.4,681.1 C348.8,680.7 353.7,680.0 356.1,678.9 C358.4,677.8 359.9,676.5 361.5,674.6 C363.2,672.7 365.1,668.7 365.9,667.5" fill="none" stroke="#b4b4a4" stroke-width="2.0" stroke-linecap="round" stroke-linejoin="round"/><path d="M347.4,682.2 C349.2,682.0 354.6,681.7 358.3,681.1 C361.9,680.5 366.1,679.2 369.1,678.4 C372.2,677.6 375.5,676.6 376.7,676.2" fill="none" stroke="#bcbcaa" stroke-width="2.2" stroke-linecap="round" stroke-linejoin="round"/><path d="M343.0,690.9 C344.9,691.8 349.9,694.9 353.9,696.3 C357.9,697.8 363.0,698.7 367.0,699.6 C370.9,700.5 375.2,700.9 377.8,701.7 C380.5,702.6 381.9,704.0 382.7,704.5" fill="none" stroke="#c8c8b8" stroke-width="2.9" stroke-linecap="round" stroke-linejoin="round"/><ellipse cx="334.3" cy="683.3" rx="11" ry="5.6" fill="#c8d6a0" transform="rotate(8 334.3 683.3)" /><ellipse cx="342.0" cy="684.3" rx="4.2" ry="3.8" fill="#c8b060" transform="rotate(0 342.0 684.3)" />
</g>
<g filter="url(#soft)">
<path d="M533.8,585.0 C534.4,587.2 536.2,593.0 537.4,598.0 C538.6,603.0 539.9,609.3 541.0,615.0 C542.1,620.7 543.5,626.9 544.2,632.0 C544.9,637.1 545.0,640.6 544.9,645.4 C544.9,650.2 544.5,656.2 543.9,660.8 C543.3,665.4 542.0,670.0 541.3,673.1 C540.7,676.2 540.1,678.3 539.8,679.3" fill="none" stroke="#78a432" stroke-width="9.4" stroke-linecap="round"/><path d="M533.8,585.0 C534.4,587.2 536.2,593.0 537.4,598.0 C538.6,603.0 539.9,609.3 541.0,615.0 C542.1,620.7 543.5,626.9 544.2,632.0 C544.9,637.1 545.0,640.6 544.9,645.4 C544.9,650.2 544.5,656.2 543.9,660.8 C543.3,665.4 542.0,670.0 541.3,673.1 C540.7,676.2 540.1,678.3 539.8,679.3" fill="none" stroke="#9ed044" stroke-width="7.0" stroke-linecap="round" filter="url(#hs)"/><path d="M533.8,585.0 C534.4,587.2 536.2,593.0 537.4,598.0 C538.6,603.0 539.9,609.3 541.0,615.0 C542.1,620.7 543.5,626.9 544.2,632.0 C544.9,637.1 545.0,640.6 544.9,645.4 C544.9,650.2 544.5,656.2 543.9,660.8 C543.3,665.4 542.0,670.0 541.3,673.1 C540.7,676.2 540.1,678.3 539.8,679.3" fill="none" stroke="#c8e274" stroke-width="2.8" stroke-linecap="round" opacity="0.55" filter="url(#hs)"/><clipPath id="c3"><path d="M526.6,573.3 C524.5,571.6 521.2,572.4 519.3,572.1 C517.5,571.7 515.0,570.7 513.3,570.9 C511.6,571.0 509.1,571.9 507.3,573.3 C505.4,574.6 502.0,578.2 500.0,580.5 C498.0,582.9 494.8,588.2 492.8,590.2 C490.7,592.1 487.9,593.6 485.5,594.4 C483.2,595.2 479.4,596.1 475.9,596.2 C472.3,596.3 464.1,594.8 460.2,595.0 C456.3,595.2 450.8,596.2 448.1,597.4 C445.4,598.6 442.5,601.4 440.9,603.5 C439.3,605.5 437.0,609.5 436.6,611.9 C436.3,614.3 437.2,618.4 438.5,620.4 C439.7,622.3 443.5,624.9 445.7,625.8 C447.9,626.6 451.4,626.8 454.1,626.4 C456.8,626.0 462.0,624.3 465.0,622.8 C468.0,621.3 473.2,617.6 475.9,615.5 C478.6,613.5 482.3,610.0 484.3,608.3 C486.3,606.6 488.2,604.2 490.4,603.5 C492.6,602.7 497.5,603.4 500.0,602.9 C502.5,602.3 506.4,600.9 508.5,599.8 C510.5,598.7 513.0,596.4 514.5,595.0 C516.0,593.7 517.6,590.9 519.3,590.2 C521.0,589.5 524.9,589.7 526.6,590.2 C528.3,590.7 530.4,594.6 531.4,593.8 C532.4,593.0 534.5,587.0 533.8,584.1 C533.1,581.3 528.6,575.0 526.6,573.3 Z"/></clipPath><path d="M526.6,573.3 C524.5,571.6 521.2,572.4 519.3,572.1 C517.5,571.7 515.0,570.7 513.3,570.9 C511.6,571.0 509.1,571.9 507.3,573.3 C505.4,574.6 502.0,578.2 500.0,580.5 C498.0,582.9 494.8,588.2 492.8,590.2 C490.7,592.1 487.9,593.6 485.5,594.4 C483.2,595.2 479.4,596.1 475.9,596.2 C472.3,596.3 464.1,594.8 460.2,595.0 C456.3,595.2 450.8,596.2 448.1,597.4 C445.4,598.6 442.5,601.4 440.9,603.5 C439.3,605.5 437.0,609.5 436.6,611.9 C436.3,614.3 437.2,618.4 438.5,620.4 C439.7,622.3 443.5,624.9 445.7,625.8 C447.9,626.6 451.4,626.8 454.1,626.4 C456.8,626.0 462.0,624.3 465.0,622.8 C468.0,621.3 473.2,617.6 475.9,615.5 C478.6,613.5 482.3,610.0 484.3,608.3 C486.3,606.6 488.2,604.2 490.4,603.5 C492.6,602.7 497.5,603.4 500.0,602.9 C502.5,602.3 506.4,600.9 508.5,599.8 C510.5,598.7 513.0,596.4 514.5,595.0 C516.0,593.7 517.6,590.9 519.3,590.2 C521.0,589.5 524.9,589.7 526.6,590.2 C528.3,590.7 530.4,594.6 531.4,593.8 C532.4,593.0 534.5,587.0 533.8,584.1 C533.1,581.3 528.6,575.0 526.6,573.3 Z" fill="#4b883d"/><g clip-path="url(#c3)"><ellipse cx="457.8" cy="610.7" rx="15" ry="9" fill="#98b494" opacity="0.61" transform="rotate(-20 457.8 610.7)" filter="url(#hl)"/><ellipse cx="512.1" cy="580.5" rx="9" ry="5" fill="#74b25a" opacity="0.58" transform="rotate(-40 512.1 580.5)" filter="url(#hl)"/><ellipse cx="502.4" cy="599.8" rx="9" ry="2.4" fill="#2f6a2a" opacity="0.58" transform="rotate(-20 502.4 599.8)" filter="url(#hl)"/><ellipse cx="481.9" cy="599.8" rx="6" ry="4" fill="#6aa058" opacity="0.43" transform="rotate(-30 481.9 599.8)" filter="url(#hl)"/><path d="M526.6,573.3 C524.5,571.6 521.2,572.4 519.3,572.1 C517.5,571.7 515.0,570.7 513.3,570.9 C511.6,571.0 509.1,571.9 507.3,573.3 C505.4,574.6 502.0,578.2 500.0,580.5 C498.0,582.9 494.8,588.2 492.8,590.2 C490.7,592.1 487.9,593.6 485.5,594.4 C483.2,595.2 479.4,596.1 475.9,596.2 C472.3,596.3 464.1,594.8 460.2,595.0 C456.3,595.2 450.8,596.2 448.1,597.4 C445.4,598.6 442.5,601.4 440.9,603.5 C439.3,605.5 437.0,609.5 436.6,611.9 C436.3,614.3 437.2,618.4 438.5,620.4 C439.7,622.3 443.5,624.9 445.7,625.8 C447.9,626.6 451.4,626.8 454.1,626.4 C456.8,626.0 462.0,624.3 465.0,622.8 C468.0,621.3 473.2,617.6 475.9,615.5 C478.6,613.5 482.3,610.0 484.3,608.3 C486.3,606.6 488.2,604.2 490.4,603.5 C492.6,602.7 497.5,603.4 500.0,602.9 C502.5,602.3 506.4,600.9 508.5,599.8 C510.5,598.7 513.0,596.4 514.5,595.0 C516.0,593.7 517.6,590.9 519.3,590.2 C521.0,589.5 524.9,589.7 526.6,590.2 C528.3,590.7 530.4,594.6 531.4,593.8 C532.4,593.0 534.5,587.0 533.8,584.1 C533.1,581.3 528.6,575.0 526.6,573.3 Z" fill="none" stroke="#86b870" stroke-width="1.2" opacity="0.4"/></g><clipPath id="c4"><path d="M538.6,582.9 C539.0,581.4 541.8,579.4 543.5,578.1 C545.2,576.8 548.7,574.6 550.7,573.9 C552.7,573.2 555.9,572.9 558.0,573.3 C560.0,573.7 562.8,575.9 565.2,576.9 C567.6,577.9 571.8,579.7 574.9,580.5 C577.9,581.4 583.5,582.1 586.9,582.9 C590.3,583.8 596.0,585.4 599.0,586.6 C602.0,587.7 606.6,589.9 608.7,591.4 C610.7,592.9 613.0,595.7 613.5,597.4 C614.0,599.1 613.5,602.4 612.3,603.5 C611.1,604.6 607.2,605.1 605.0,605.3 C602.8,605.4 599.5,605.3 596.6,604.7 C593.7,604.1 587.2,602.2 584.5,601.0 C581.8,599.9 579.0,597.7 577.3,596.2 C575.6,594.7 574.5,591.9 572.4,590.2 C570.4,588.5 565.8,585.2 562.8,584.1 C559.7,583.0 553.4,582.3 550.7,582.3 C548.0,582.3 544.8,583.2 543.5,584.1 C542.1,585.1 541.7,589.1 541.1,589.0 C540.4,588.8 538.3,584.5 538.6,582.9 Z"/></clipPath><path d="M538.6,582.9 C539.0,581.4 541.8,579.4 543.5,578.1 C545.2,576.8 548.7,574.6 550.7,573.9 C552.7,573.2 555.9,572.9 558.0,573.3 C560.0,573.7 562.8,575.9 565.2,576.9 C567.6,577.9 571.8,579.7 574.9,580.5 C577.9,581.4 583.5,582.1 586.9,582.9 C590.3,583.8 596.0,585.4 599.0,586.6 C602.0,587.7 606.6,589.9 608.7,591.4 C610.7,592.9 613.0,595.7 613.5,597.4 C614.0,599.1 613.5,602.4 612.3,603.5 C611.1,604.6 607.2,605.1 605.0,605.3 C602.8,605.4 599.5,605.3 596.6,604.7 C593.7,604.1 587.2,602.2 584.5,601.0 C581.8,599.9 579.0,597.7 577.3,596.2 C575.6,594.7 574.5,591.9 572.4,590.2 C570.4,588.5 565.8,585.2 562.8,584.1 C559.7,583.0 553.4,582.3 550.7,582.3 C548.0,582.3 544.8,583.2 543.5,584.1 C542.1,585.1 541.7,589.1 541.1,589.0 C540.4,588.8 538.3,584.5 538.6,582.9 Z" fill="#48873b"/><g clip-path="url(#c4)"><ellipse cx="568.8" cy="579.3" rx="14" ry="2.4" fill="#88bc74" opacity="0.58" transform="rotate(14 568.8 579.3)" filter="url(#hl)"/><ellipse cx="596.6" cy="595.0" rx="12" ry="4" fill="#7cae70" opacity="0.58" transform="rotate(15 596.6 595.0)" filter="url(#hl)"/><ellipse cx="590.6" cy="602.9" rx="12" ry="1.6" fill="#2c5e28" opacity="0.58" transform="rotate(12 590.6 602.9)" filter="url(#hl)"/><path d="M538.6,582.9 C539.0,581.4 541.8,579.4 543.5,578.1 C545.2,576.8 548.7,574.6 550.7,573.9 C552.7,573.2 555.9,572.9 558.0,573.3 C560.0,573.7 562.8,575.9 565.2,576.9 C567.6,577.9 571.8,579.7 574.9,580.5 C577.9,581.4 583.5,582.1 586.9,582.9 C590.3,583.8 596.0,585.4 599.0,586.6 C602.0,587.7 606.6,589.9 608.7,591.4 C610.7,592.9 613.0,595.7 613.5,597.4 C614.0,599.1 613.5,602.4 612.3,603.5 C611.1,604.6 607.2,605.1 605.0,605.3 C602.8,605.4 599.5,605.3 596.6,604.7 C593.7,604.1 587.2,602.2 584.5,601.0 C581.8,599.9 579.0,597.7 577.3,596.2 C575.6,594.7 574.5,591.9 572.4,590.2 C570.4,588.5 565.8,585.2 562.8,584.1 C559.7,583.0 553.4,582.3 550.7,582.3 C548.0,582.3 544.8,583.2 543.5,584.1 C542.1,585.1 541.7,589.1 541.1,589.0 C540.4,588.8 538.3,584.5 538.6,582.9 Z" fill="none" stroke="#80b06c" stroke-width="1.2" opacity="0.4"/></g><path d="M534.1,677.2 C532.4,677.9 527.5,680.1 523.9,681.3 C520.3,682.5 514.5,683.9 512.6,684.4" fill="none" stroke="#d4dcbc" stroke-width="3.6" stroke-linecap="round" stroke-linejoin="round"/><path d="M520.8,684.4 C519.6,685.6 516.3,688.9 513.6,691.6 C511.0,694.3 506.3,699.3 504.9,700.8" fill="none" stroke="#d0d0c0" stroke-width="2.8" stroke-linecap="round" stroke-linejoin="round"/><path d="M533.1,681.3 C533.2,682.0 533.5,684.2 533.6,685.4 C533.8,686.6 534.1,688.0 534.1,688.5" fill="none" stroke="#d8e0b4" stroke-width="5" stroke-linecap="round" stroke-linejoin="round"/><path d="M541.3,685.4 C542.4,686.5 545.1,689.7 547.5,691.6 C549.9,693.5 554.3,695.9 555.7,696.7" fill="none" stroke="#dce4b8" stroke-width="4.8" stroke-linecap="round" stroke-linejoin="round"/><path d="M547.5,683.4 C549.0,683.7 554.3,684.4 556.7,685.4 C559.1,686.5 560.2,688.2 561.9,689.5 C563.6,690.9 566.1,693.0 567.0,693.7" fill="none" stroke="#d8dcc4" stroke-width="3.6" stroke-linecap="round" stroke-linejoin="round"/><ellipse cx="539.8" cy="680.3" rx="7" ry="5" fill="#c4dc80" transform="rotate(0 539.8 680.3)" />
</g>
<g filter="url(#soft)">
<path d="M702.1,578.0 C701.8,580.2 700.7,586.5 700.0,591.0 C699.3,595.5 698.4,600.2 697.8,605.0 C697.2,609.8 696.6,615.5 696.3,620.0 C695.9,624.5 695.6,628.4 695.7,632.0 C695.8,635.6 696.0,638.0 696.7,641.5 C697.4,645.0 698.6,649.1 700.1,652.9 C701.7,656.8 703.6,661.2 705.9,664.4 C708.2,667.7 711.3,670.6 713.9,672.4 C716.5,674.3 720.1,675.1 721.4,675.6" fill="none" stroke="#7aa432" stroke-width="9.4" stroke-linecap="round"/><path d="M702.1,578.0 C701.8,580.2 700.7,586.5 700.0,591.0 C699.3,595.5 698.4,600.2 697.8,605.0 C697.2,609.8 696.6,615.5 696.3,620.0 C695.9,624.5 695.6,628.4 695.7,632.0 C695.8,635.6 696.0,638.0 696.7,641.5 C697.4,645.0 698.6,649.1 700.1,652.9 C701.7,656.8 703.6,661.2 705.9,664.4 C708.2,667.7 711.3,670.6 713.9,672.4 C716.5,674.3 720.1,675.1 721.4,675.6" fill="none" stroke="#a0cc44" stroke-width="7.0" stroke-linecap="round" filter="url(#hs)"/><path d="M702.1,578.0 C701.8,580.2 700.7,586.5 700.0,591.0 C699.3,595.5 698.4,600.2 697.8,605.0 C697.2,609.8 696.6,615.5 696.3,620.0 C695.9,624.5 695.6,628.4 695.7,632.0 C695.8,635.6 696.0,638.0 696.7,641.5 C697.4,645.0 698.6,649.1 700.1,652.9 C701.7,656.8 703.6,661.2 705.9,664.4 C708.2,667.7 711.3,670.6 713.9,672.4 C716.5,674.3 720.1,675.1 721.4,675.6" fill="none" stroke="#c8e274" stroke-width="2.8" stroke-linecap="round" opacity="0.55" filter="url(#hs)"/><clipPath id="c5"><path d="M635.2,570.0 C635.6,567.9 637.0,564.1 637.9,562.4 C638.8,560.7 640.4,559.0 641.7,558.0 C643.0,557.1 645.7,555.8 647.2,555.3 C648.7,554.8 651.1,554.6 652.6,554.6 C654.1,554.6 656.5,555.0 658.0,555.3 C659.6,555.7 661.7,556.0 663.5,557.0 C665.3,557.9 669.1,561.1 671.1,562.4 C673.1,563.7 675.3,565.1 677.6,566.2 C679.9,567.3 684.8,569.5 687.4,570.5 C690.0,571.6 694.6,572.6 696.1,573.5 C697.6,574.3 698.3,575.3 698.3,576.5 C698.3,577.7 696.5,580.6 696.1,582.0 C695.6,583.3 696.5,585.1 695.0,586.3 C693.5,587.5 688.9,589.5 685.2,590.7 C681.6,591.8 673.5,593.8 668.9,594.5 C664.3,595.1 656.0,595.2 652.6,595.5 C649.3,595.9 646.5,596.5 645.0,597.2 C643.5,597.9 642.7,600.6 641.7,600.4 C640.8,600.3 639.2,597.2 638.5,596.1 C637.7,595.0 636.8,595.4 636.3,592.8 C635.8,590.2 635.4,580.8 635.2,577.6 C635.1,574.4 634.8,572.1 635.2,570.0 Z"/></clipPath><path d="M635.2,570.0 C635.6,567.9 637.0,564.1 637.9,562.4 C638.8,560.7 640.4,559.0 641.7,558.0 C643.0,557.1 645.7,555.8 647.2,555.3 C648.7,554.8 651.1,554.6 652.6,554.6 C654.1,554.6 656.5,555.0 658.0,555.3 C659.6,555.7 661.7,556.0 663.5,557.0 C665.3,557.9 669.1,561.1 671.1,562.4 C673.1,563.7 675.3,565.1 677.6,566.2 C679.9,567.3 684.8,569.5 687.4,570.5 C690.0,571.6 694.6,572.6 696.1,573.5 C697.6,574.3 698.3,575.3 698.3,576.5 C698.3,577.7 696.5,580.6 696.1,582.0 C695.6,583.3 696.5,585.1 695.0,586.3 C693.5,587.5 688.9,589.5 685.2,590.7 C681.6,591.8 673.5,593.8 668.9,594.5 C664.3,595.1 656.0,595.2 652.6,595.5 C649.3,595.9 646.5,596.5 645.0,597.2 C643.5,597.9 642.7,600.6 641.7,600.4 C640.8,600.3 639.2,597.2 638.5,596.1 C637.7,595.0 636.8,595.4 636.3,592.8 C635.8,590.2 635.4,580.8 635.2,577.6 C635.1,574.4 634.8,572.1 635.2,570.0 Z" fill="#5a9c36"/><g clip-path="url(#c5)"><ellipse cx="652.6" cy="572.2" rx="12" ry="8" fill="#74b446" opacity="0.58" transform="rotate(-20 652.6 572.2)" filter="url(#hl)"/><ellipse cx="685.2" cy="569.5" rx="9" ry="2.2" fill="#2c6226" opacity="0.65" transform="rotate(22 685.2 569.5)" filter="url(#hl)"/><ellipse cx="668.9" cy="592.8" rx="16" ry="1.6" fill="#3f7e2c" opacity="0.43" transform="rotate(-6 668.9 592.8)" filter="url(#hl)"/><ellipse cx="654.8" cy="593.9" rx="3" ry="1.5" fill="#c8e0b0" opacity="0.65" transform="rotate(0 654.8 593.9)" filter="url(#hl)"/><path d="M635.2,570.0 C635.6,567.9 637.0,564.1 637.9,562.4 C638.8,560.7 640.4,559.0 641.7,558.0 C643.0,557.1 645.7,555.8 647.2,555.3 C648.7,554.8 651.1,554.6 652.6,554.6 C654.1,554.6 656.5,555.0 658.0,555.3 C659.6,555.7 661.7,556.0 663.5,557.0 C665.3,557.9 669.1,561.1 671.1,562.4 C673.1,563.7 675.3,565.1 677.6,566.2 C679.9,567.3 684.8,569.5 687.4,570.5 C690.0,571.6 694.6,572.6 696.1,573.5 C697.6,574.3 698.3,575.3 698.3,576.5 C698.3,577.7 696.5,580.6 696.1,582.0 C695.6,583.3 696.5,585.1 695.0,586.3 C693.5,587.5 688.9,589.5 685.2,590.7 C681.6,591.8 673.5,593.8 668.9,594.5 C664.3,595.1 656.0,595.2 652.6,595.5 C649.3,595.9 646.5,596.5 645.0,597.2 C643.5,597.9 642.7,600.6 641.7,600.4 C640.8,600.3 639.2,597.2 638.5,596.1 C637.7,595.0 636.8,595.4 636.3,592.8 C635.8,590.2 635.4,580.8 635.2,577.6 C635.1,574.4 634.8,572.1 635.2,570.0 Z" fill="none" stroke="#86bc58" stroke-width="1.2" opacity="0.4"/></g><clipPath id="c6"><path d="M698.3,576.5 C698.1,574.7 699.6,570.6 700.4,568.9 C701.3,567.2 703.4,565.0 704.2,564.6 C705.0,564.1 705.7,564.4 706.1,565.7 C706.5,566.9 707.0,571.1 707.0,573.3 C706.9,575.4 706.6,579.7 705.9,580.9 C705.1,582.1 702.6,582.6 701.5,582.0 C700.5,581.3 698.4,578.3 698.3,576.5 Z"/></clipPath><path d="M698.3,576.5 C698.1,574.7 699.6,570.6 700.4,568.9 C701.3,567.2 703.4,565.0 704.2,564.6 C705.0,564.1 705.7,564.4 706.1,565.7 C706.5,566.9 707.0,571.1 707.0,573.3 C706.9,575.4 706.6,579.7 705.9,580.9 C705.1,582.1 702.6,582.6 701.5,582.0 C700.5,581.3 698.4,578.3 698.3,576.5 Z" fill="#569a38"/><g clip-path="url(#c6)"></g><clipPath id="c7"><path d="M708.0,574.3 C708.3,573.1 709.5,570.9 710.2,570.0 C711.0,569.1 712.0,568.3 713.5,567.8 C715.0,567.4 719.0,566.3 721.1,566.7 C723.2,567.2 726.9,569.7 728.7,571.1 C730.5,572.5 732.6,574.8 734.1,576.5 C735.7,578.2 738.0,581.1 739.6,583.0 C741.1,585.0 743.6,588.7 745.0,590.7 C746.4,592.6 748.1,595.0 749.3,597.2 C750.6,599.3 752.7,604.0 753.7,605.9 C754.7,607.7 756.6,609.0 756.4,610.2 C756.3,611.4 753.8,613.7 752.6,614.6 C751.5,615.5 749.6,616.1 748.3,616.7 C746.9,617.3 744.0,619.2 742.8,618.9 C741.6,618.6 740.6,615.9 739.6,614.6 C738.5,613.2 736.6,610.5 735.2,609.1 C733.8,607.8 731.3,606.0 729.8,604.8 C728.3,603.6 725.9,601.8 724.3,600.4 C722.8,599.1 720.3,596.5 718.9,595.0 C717.5,593.5 715.8,591.2 714.6,589.6 C713.3,587.9 711.1,584.6 710.2,583.0 C709.3,581.5 708.3,579.9 708.0,578.7 C707.7,577.5 707.7,575.6 708.0,574.3 Z"/></clipPath><path d="M708.0,574.3 C708.3,573.1 709.5,570.9 710.2,570.0 C711.0,569.1 712.0,568.3 713.5,567.8 C715.0,567.4 719.0,566.3 721.1,566.7 C723.2,567.2 726.9,569.7 728.7,571.1 C730.5,572.5 732.6,574.8 734.1,576.5 C735.7,578.2 738.0,581.1 739.6,583.0 C741.1,585.0 743.6,588.7 745.0,590.7 C746.4,592.6 748.1,595.0 749.3,597.2 C750.6,599.3 752.7,604.0 753.7,605.9 C754.7,607.7 756.6,609.0 756.4,610.2 C756.3,611.4 753.8,613.7 752.6,614.6 C751.5,615.5 749.6,616.1 748.3,616.7 C746.9,617.3 744.0,619.2 742.8,618.9 C741.6,618.6 740.6,615.9 739.6,614.6 C738.5,613.2 736.6,610.5 735.2,609.1 C733.8,607.8 731.3,606.0 729.8,604.8 C728.3,603.6 725.9,601.8 724.3,600.4 C722.8,599.1 720.3,596.5 718.9,595.0 C717.5,593.5 715.8,591.2 714.6,589.6 C713.3,587.9 711.1,584.6 710.2,583.0 C709.3,581.5 708.3,579.9 708.0,578.7 C707.7,577.5 707.7,575.6 708.0,574.3 Z" fill="#2f7230"/><g clip-path="url(#c7)"><ellipse cx="720.0" cy="577.6" rx="8" ry="3" fill="#3f8a3c" opacity="0.58" transform="rotate(50 720.0 577.6)" filter="url(#hl)"/><ellipse cx="748.3" cy="612.4" rx="6" ry="4" fill="#84c04c" opacity="0.72" transform="rotate(-20 748.3 612.4)" filter="url(#hl)"/><ellipse cx="742.8" cy="593.9" rx="6" ry="1.6" fill="#79b25c" opacity="0.65" transform="rotate(55 742.8 593.9)" filter="url(#hl)"/><ellipse cx="728.7" cy="596.1" rx="8" ry="2" fill="#1f5622" opacity="0.50" transform="rotate(48 728.7 596.1)" filter="url(#hl)"/><path d="M708.0,574.3 C708.3,573.1 709.5,570.9 710.2,570.0 C711.0,569.1 712.0,568.3 713.5,567.8 C715.0,567.4 719.0,566.3 721.1,566.7 C723.2,567.2 726.9,569.7 728.7,571.1 C730.5,572.5 732.6,574.8 734.1,576.5 C735.7,578.2 738.0,581.1 739.6,583.0 C741.1,585.0 743.6,588.7 745.0,590.7 C746.4,592.6 748.1,595.0 749.3,597.2 C750.6,599.3 752.7,604.0 753.7,605.9 C754.7,607.7 756.6,609.0 756.4,610.2 C756.3,611.4 753.8,613.7 752.6,614.6 C751.5,615.5 749.6,616.1 748.3,616.7 C746.9,617.3 744.0,619.2 742.8,618.9 C741.6,618.6 740.6,615.9 739.6,614.6 C738.5,613.2 736.6,610.5 735.2,609.1 C733.8,607.8 731.3,606.0 729.8,604.8 C728.3,603.6 725.9,601.8 724.3,600.4 C722.8,599.1 720.3,596.5 718.9,595.0 C717.5,593.5 715.8,591.2 714.6,589.6 C713.3,587.9 711.1,584.6 710.2,583.0 C709.3,581.5 708.3,579.9 708.0,578.7 C707.7,577.5 707.7,575.6 708.0,574.3 Z" fill="none" stroke="#4f8f44" stroke-width="1.2" opacity="0.4"/></g><path d="M709.3,679.3 C707.8,679.9 703.6,681.7 700.1,682.8 C696.7,683.8 692.3,685.0 688.7,685.6 C685.0,686.3 680.1,686.6 678.3,686.8" fill="none" stroke="#d4d4c4" stroke-width="2.8" stroke-linecap="round" stroke-linejoin="round"/><path d="M711.6,682.8 C710.6,684.1 708.7,688.6 705.9,690.8 C703.0,693.0 699.4,694.9 694.4,695.9 C689.4,697.0 679.1,696.9 676.1,697.1" fill="none" stroke="#d8d8c8" stroke-width="2.8" stroke-linecap="round" stroke-linejoin="round"/><path d="M719.6,683.9 C719.7,685.6 719.4,690.8 720.2,694.2 C721.0,697.7 722.4,701.7 724.2,704.5 C726.0,707.4 729.2,708.9 731.1,711.4 C733.0,713.9 734.9,718.1 735.7,719.4" fill="none" stroke="#dcdccc" stroke-width="2.8" stroke-linecap="round" stroke-linejoin="round"/><path d="M724.2,683.9 C724.6,685.6 725.7,690.8 726.5,694.2 C727.3,697.7 728.4,702.8 728.8,704.5" fill="none" stroke="#d4d4c4" stroke-width="2.6" stroke-linecap="round" stroke-linejoin="round"/><ellipse cx="719.1" cy="678.2" rx="6.5" ry="5" fill="#bcd870" transform="rotate(25 719.1 678.2)" />
</g>
<g filter="url(#soft)">
<path d="M857.5,613.3 C857.3,615.4 856.6,622.3 856.4,626.3 C856.2,630.3 856.1,633.6 856.4,637.2 C856.8,640.8 857.7,644.8 858.6,648.0 C859.5,651.3 861.0,654.7 861.8,656.7 C862.7,658.8 863.2,659.9 863.5,660.5" fill="none" stroke="#80a83a" stroke-width="8.4" stroke-linecap="round"/><path d="M857.5,613.3 C857.3,615.4 856.6,622.3 856.4,626.3 C856.2,630.3 856.1,633.6 856.4,637.2 C856.8,640.8 857.7,644.8 858.6,648.0 C859.5,651.3 861.0,654.7 861.8,656.7 C862.7,658.8 863.2,659.9 863.5,660.5" fill="none" stroke="#aad050" stroke-width="6.2" stroke-linecap="round" filter="url(#hs)"/><path d="M857.5,613.3 C857.3,615.4 856.6,622.3 856.4,626.3 C856.2,630.3 856.1,633.6 856.4,637.2 C856.8,640.8 857.7,644.8 858.6,648.0 C859.5,651.3 861.0,654.7 861.8,656.7 C862.7,658.8 863.2,659.9 863.5,660.5" fill="none" stroke="#c8e274" stroke-width="2.5" stroke-linecap="round" opacity="0.55" filter="url(#hs)"/><clipPath id="c8"><path d="M807.1,581.6 C807.5,580.0 812.8,570.6 814.3,568.1 C815.8,565.6 820.9,557.7 822.2,556.6 C823.4,555.6 825.7,556.3 826.6,557.5 C827.5,558.6 830.0,566.0 831.2,568.1 C832.4,570.3 836.4,576.7 838.5,579.0 C840.5,581.3 849.2,589.2 851.8,591.1 C854.4,593.0 863.1,596.5 864.4,598.1 C865.8,599.6 865.8,605.2 865.7,606.8 C865.5,608.3 863.9,612.6 862.6,613.4 C861.4,614.2 855.0,615.3 853.0,614.6 C850.9,613.9 844.3,607.9 842.1,606.2 C839.9,604.4 833.4,598.7 831.2,597.1 C829.1,595.5 822.5,591.1 820.4,589.9 C818.2,588.6 811.4,585.6 810.1,584.8 C808.8,584.0 806.7,583.3 807.1,581.6 Z"/></clipPath><path d="M807.1,581.6 C807.5,580.0 812.8,570.6 814.3,568.1 C815.8,565.6 820.9,557.7 822.2,556.6 C823.4,555.6 825.7,556.3 826.6,557.5 C827.5,558.6 830.0,566.0 831.2,568.1 C832.4,570.3 836.4,576.7 838.5,579.0 C840.5,581.3 849.2,589.2 851.8,591.1 C854.4,593.0 863.1,596.5 864.4,598.1 C865.8,599.6 865.8,605.2 865.7,606.8 C865.5,608.3 863.9,612.6 862.6,613.4 C861.4,614.2 855.0,615.3 853.0,614.6 C850.9,613.9 844.3,607.9 842.1,606.2 C839.9,604.4 833.4,598.7 831.2,597.1 C829.1,595.5 822.5,591.1 820.4,589.9 C818.2,588.6 811.4,585.6 810.1,584.8 C808.8,584.0 806.7,583.3 807.1,581.6 Z" fill="#2f6032"/><g clip-path="url(#c8)"><ellipse cx="831.2" cy="577.8" rx="15" ry="2.6" fill="#5c9258" opacity="0.65" transform="rotate(42 831.2 577.8)" filter="url(#hl)"/><ellipse cx="825.2" cy="564.5" rx="8" ry="1.6" fill="#6a9c68" opacity="0.58" transform="rotate(62 825.2 564.5)" filter="url(#hl)"/><ellipse cx="834.9" cy="600.7" rx="14" ry="1.8" fill="#1f4c24" opacity="0.58" transform="rotate(38 834.9 600.7)" filter="url(#hl)"/><ellipse cx="808.9" cy="581.6" rx="2.4" ry="2" fill="#a8c464" opacity="0.72" transform="rotate(0 808.9 581.6)" filter="url(#hl)"/><path d="M807.1,581.6 C807.5,580.0 812.8,570.6 814.3,568.1 C815.8,565.6 820.9,557.7 822.2,556.6 C823.4,555.6 825.7,556.3 826.6,557.5 C827.5,558.6 830.0,566.0 831.2,568.1 C832.4,570.3 836.4,576.7 838.5,579.0 C840.5,581.3 849.2,589.2 851.8,591.1 C854.4,593.0 863.1,596.5 864.4,598.1 C865.8,599.6 865.8,605.2 865.7,606.8 C865.5,608.3 863.9,612.6 862.6,613.4 C861.4,614.2 855.0,615.3 853.0,614.6 C850.9,613.9 844.3,607.9 842.1,606.2 C839.9,604.4 833.4,598.7 831.2,597.1 C829.1,595.5 822.5,591.1 820.4,589.9 C818.2,588.6 811.4,585.6 810.1,584.8 C808.8,584.0 806.7,583.3 807.1,581.6 Z" fill="none" stroke="#5e9058" stroke-width="1.2" opacity="0.4"/></g><clipPath id="c9"><path d="M867.5,599.5 C868.9,598.7 875.0,604.0 877.1,605.0 C879.3,605.9 886.3,608.0 889.2,608.6 C892.1,609.1 902.7,610.3 906.1,610.4 C909.5,610.5 921.3,608.7 923.3,609.7 C925.2,610.6 925.0,618.0 925.4,620.0 C925.9,622.1 928.0,629.0 928.1,630.3 C928.2,631.7 926.8,633.4 926.0,633.6 C925.3,633.7 921.6,631.8 920.6,631.9 C919.6,631.9 917.7,634.3 915.8,634.1 C913.8,633.9 904.2,630.9 901.3,630.0 C898.4,629.0 889.7,625.5 886.8,624.6 C883.9,623.8 874.6,622.1 872.3,621.5 C869.9,620.9 864.2,619.7 863.2,618.8 C862.3,618.0 862.2,614.7 862.6,612.8 C863.1,610.9 866.0,600.3 867.5,599.5 Z"/></clipPath><path d="M867.5,599.5 C868.9,598.7 875.0,604.0 877.1,605.0 C879.3,605.9 886.3,608.0 889.2,608.6 C892.1,609.1 902.7,610.3 906.1,610.4 C909.5,610.5 921.3,608.7 923.3,609.7 C925.2,610.6 925.0,618.0 925.4,620.0 C925.9,622.1 928.0,629.0 928.1,630.3 C928.2,631.7 926.8,633.4 926.0,633.6 C925.3,633.7 921.6,631.8 920.6,631.9 C919.6,631.9 917.7,634.3 915.8,634.1 C913.8,633.9 904.2,630.9 901.3,630.0 C898.4,629.0 889.7,625.5 886.8,624.6 C883.9,623.8 874.6,622.1 872.3,621.5 C869.9,620.9 864.2,619.7 863.2,618.8 C862.3,618.0 862.2,614.7 862.6,612.8 C863.1,610.9 866.0,600.3 867.5,599.5 Z" fill="#306234"/><g clip-path="url(#c9)"><ellipse cx="894.0" cy="615.2" rx="17" ry="2.8" fill="#5e945e" opacity="0.65" transform="rotate(10 894.0 615.2)" filter="url(#hl)"/><ellipse cx="919.4" cy="622.5" rx="6" ry="7" fill="#70a06e" opacity="0.61" transform="rotate(0 919.4 622.5)" filter="url(#hl)"/><ellipse cx="891.6" cy="627.3" rx="16" ry="1.6" fill="#1f4c24" opacity="0.58" transform="rotate(14 891.6 627.3)" filter="url(#hl)"/><path d="M867.5,599.5 C868.9,598.7 875.0,604.0 877.1,605.0 C879.3,605.9 886.3,608.0 889.2,608.6 C892.1,609.1 902.7,610.3 906.1,610.4 C909.5,610.5 921.3,608.7 923.3,609.7 C925.2,610.6 925.0,618.0 925.4,620.0 C925.9,622.1 928.0,629.0 928.1,630.3 C928.2,631.7 926.8,633.4 926.0,633.6 C925.3,633.7 921.6,631.8 920.6,631.9 C919.6,631.9 917.7,634.3 915.8,634.1 C913.8,633.9 904.2,630.9 901.3,630.0 C898.4,629.0 889.7,625.5 886.8,624.6 C883.9,623.8 874.6,622.1 872.3,621.5 C869.9,620.9 864.2,619.7 863.2,618.8 C862.3,618.0 862.2,614.7 862.6,612.8 C863.1,610.9 866.0,600.3 867.5,599.5 Z" fill="none" stroke="#5e9058" stroke-width="1.2" opacity="0.4"/></g><clipPath id="c10"><path d="M860.2,598.3 C861.1,597.2 863.3,596.3 864.4,596.5 C865.6,596.7 868.2,597.9 868.7,599.5 C869.1,601.1 868.1,605.9 867.5,608.0 C866.8,610.0 865.0,613.3 863.8,614.0 C862.7,614.7 859.8,614.2 859.0,612.8 C858.2,611.4 858.2,606.4 858.4,604.3 C858.6,602.3 859.4,599.4 860.2,598.3 Z"/></clipPath><path d="M860.2,598.3 C861.1,597.2 863.3,596.3 864.4,596.5 C865.6,596.7 868.2,597.9 868.7,599.5 C869.1,601.1 868.1,605.9 867.5,608.0 C866.8,610.0 865.0,613.3 863.8,614.0 C862.7,614.7 859.8,614.2 859.0,612.8 C858.2,611.4 858.2,606.4 858.4,604.3 C858.6,602.3 859.4,599.4 860.2,598.3 Z" fill="#447e3a"/><g clip-path="url(#c10)"></g><path d="M858.0,662.2 C857.1,663.3 854.6,666.0 852.6,668.7 C850.6,671.4 848.4,674.7 846.1,678.5 C843.8,682.3 840.2,689.3 839.0,691.5" fill="none" stroke="#e2e2d2" stroke-width="3.2" stroke-linecap="round" stroke-linejoin="round"/><path d="M866.7,662.2 C867.3,663.3 869.4,666.2 870.0,668.7 C870.6,671.2 870.9,674.5 870.5,677.4 C870.2,680.3 868.9,683.4 867.8,686.1 C866.7,688.8 864.7,692.4 864.0,693.7" fill="none" stroke="#e4e4d4" stroke-width="3.6" stroke-linecap="round" stroke-linejoin="round"/><ellipse cx="862.9" cy="661.1" rx="5.2" ry="3.6" fill="#c8dc8c" transform="rotate(0 862.9 661.1)" />
</g>
<g filter="url(#soft)">
<path d="M1034.1,598.0 C1033.9,599.7 1033.8,604.3 1033.0,608.0 C1032.2,611.7 1030.5,616.2 1029.3,620.0 C1028.1,623.8 1026.4,627.2 1025.5,630.9 C1024.6,634.5 1024.1,638.1 1023.9,641.7 C1023.7,645.4 1023.7,649.0 1024.5,652.6 C1025.2,656.2 1026.5,660.5 1028.3,663.5 C1030.0,666.5 1032.4,668.9 1034.8,670.5 C1037.1,672.1 1041.1,672.6 1042.4,673.0" fill="none" stroke="#7cac34" stroke-width="11.8" stroke-linecap="round"/><path d="M1034.1,598.0 C1033.9,599.7 1033.8,604.3 1033.0,608.0 C1032.2,611.7 1030.5,616.2 1029.3,620.0 C1028.1,623.8 1026.4,627.2 1025.5,630.9 C1024.6,634.5 1024.1,638.1 1023.9,641.7 C1023.7,645.4 1023.7,649.0 1024.5,652.6 C1025.2,656.2 1026.5,660.5 1028.3,663.5 C1030.0,666.5 1032.4,668.9 1034.8,670.5 C1037.1,672.1 1041.1,672.6 1042.4,673.0" fill="none" stroke="#a8d848" stroke-width="8.7" stroke-linecap="round" filter="url(#hs)"/><path d="M1034.1,598.0 C1033.9,599.7 1033.8,604.3 1033.0,608.0 C1032.2,611.7 1030.5,616.2 1029.3,620.0 C1028.1,623.8 1026.4,627.2 1025.5,630.9 C1024.6,634.5 1024.1,638.1 1023.9,641.7 C1023.7,645.4 1023.7,649.0 1024.5,652.6 C1025.2,656.2 1026.5,660.5 1028.3,663.5 C1030.0,666.5 1032.4,668.9 1034.8,670.5 C1037.1,672.1 1041.1,672.6 1042.4,673.0" fill="none" stroke="#cceb78" stroke-width="3.5" stroke-linecap="round" opacity="0.55" filter="url(#hs)"/><clipPath id="c11"><path d="M967.1,578.1 C967.5,576.9 969.2,573.8 970.7,573.0 C972.2,572.3 975.7,572.6 977.9,573.0 C980.1,573.4 983.2,575.1 986.4,575.9 C989.6,576.8 996.8,578.5 1000.9,579.1 C1005.0,579.6 1011.7,579.4 1015.4,579.9 C1019.1,580.5 1024.4,581.7 1027.5,582.9 C1030.5,584.2 1035.4,587.1 1037.1,588.7 C1038.8,590.4 1040.2,594.0 1039.5,595.0 C1038.9,596.0 1034.7,596.2 1032.3,595.7 C1029.9,595.3 1025.3,592.1 1022.6,591.6 C1019.9,591.2 1015.3,591.9 1013.0,592.4 C1010.6,592.8 1007.4,595.1 1005.7,595.0 C1004.0,594.9 1002.9,592.6 1000.9,591.6 C998.9,590.7 994.1,589.2 991.2,588.5 C988.4,587.8 983.1,587.4 980.4,586.8 C977.7,586.3 973.7,585.3 971.9,584.6 C970.1,583.9 968.4,582.7 967.7,581.7 C967.0,580.8 966.7,579.3 967.1,578.1 Z"/></clipPath><path d="M967.1,578.1 C967.5,576.9 969.2,573.8 970.7,573.0 C972.2,572.3 975.7,572.6 977.9,573.0 C980.1,573.4 983.2,575.1 986.4,575.9 C989.6,576.8 996.8,578.5 1000.9,579.1 C1005.0,579.6 1011.7,579.4 1015.4,579.9 C1019.1,580.5 1024.4,581.7 1027.5,582.9 C1030.5,584.2 1035.4,587.1 1037.1,588.7 C1038.8,590.4 1040.2,594.0 1039.5,595.0 C1038.9,596.0 1034.7,596.2 1032.3,595.7 C1029.9,595.3 1025.3,592.1 1022.6,591.6 C1019.9,591.2 1015.3,591.9 1013.0,592.4 C1010.6,592.8 1007.4,595.1 1005.7,595.0 C1004.0,594.9 1002.9,592.6 1000.9,591.6 C998.9,590.7 994.1,589.2 991.2,588.5 C988.4,587.8 983.1,587.4 980.4,586.8 C977.7,586.3 973.7,585.3 971.9,584.6 C970.1,583.9 968.4,582.7 967.7,581.7 C967.0,580.8 966.7,579.3 967.1,578.1 Z" fill="#489c37"/><g clip-path="url(#c11)"><ellipse cx="973.1" cy="578.7" rx="4.5" ry="4" fill="#a8cc8c" opacity="0.72" transform="rotate(0 973.1 578.7)" filter="url(#hl)"/><ellipse cx="1005.7" cy="584.2" rx="14" ry="2" fill="#78c058" opacity="0.58" transform="rotate(8 1005.7 584.2)" filter="url(#hl)"/><ellipse cx="994.9" cy="588.4" rx="10" ry="2" fill="#b0d49c" opacity="0.50" transform="rotate(12 994.9 588.4)" filter="url(#hl)"/><ellipse cx="1022.6" cy="590.2" rx="8" ry="1.8" fill="#2f7e2c" opacity="0.50" transform="rotate(20 1022.6 590.2)" filter="url(#hl)"/><path d="M967.1,578.1 C967.5,576.9 969.2,573.8 970.7,573.0 C972.2,572.3 975.7,572.6 977.9,573.0 C980.1,573.4 983.2,575.1 986.4,575.9 C989.6,576.8 996.8,578.5 1000.9,579.1 C1005.0,579.6 1011.7,579.4 1015.4,579.9 C1019.1,580.5 1024.4,581.7 1027.5,582.9 C1030.5,584.2 1035.4,587.1 1037.1,588.7 C1038.8,590.4 1040.2,594.0 1039.5,595.0 C1038.9,596.0 1034.7,596.2 1032.3,595.7 C1029.9,595.3 1025.3,592.1 1022.6,591.6 C1019.9,591.2 1015.3,591.9 1013.0,592.4 C1010.6,592.8 1007.4,595.1 1005.7,595.0 C1004.0,594.9 1002.9,592.6 1000.9,591.6 C998.9,590.7 994.1,589.2 991.2,588.5 C988.4,587.8 983.1,587.4 980.4,586.8 C977.7,586.3 973.7,585.3 971.9,584.6 C970.1,583.9 968.4,582.7 967.7,581.7 C967.0,580.8 966.7,579.3 967.1,578.1 Z" fill="none" stroke="#84c464" stroke-width="1.2" opacity="0.4"/></g><clipPath id="c12"><path d="M1039.5,596.2 C1040.4,594.5 1044.1,593.5 1046.8,592.6 C1049.5,591.7 1055.1,590.1 1058.9,589.6 C1062.6,589.1 1070.3,588.4 1073.4,589.0 C1076.4,589.6 1078.9,592.1 1080.6,593.8 C1082.3,595.5 1083.7,599.5 1085.4,601.1 C1087.1,602.6 1091.5,603.3 1092.7,604.7 C1093.9,606.0 1093.3,608.9 1093.9,610.7 C1094.5,612.6 1096.9,616.5 1096.9,618.0 C1096.9,619.4 1095.2,621.2 1093.9,621.0 C1092.6,620.8 1090.4,617.4 1087.9,616.8 C1085.3,616.1 1079.2,616.2 1075.8,616.2 C1072.4,616.1 1066.7,616.6 1063.7,616.2 C1060.7,615.7 1056.6,614.2 1054.0,613.1 C1051.5,612.0 1047.4,609.5 1045.6,608.3 C1043.7,607.1 1041.6,606.4 1040.7,604.7 C1039.9,603.0 1038.7,597.9 1039.5,596.2 Z"/></clipPath><path d="M1039.5,596.2 C1040.4,594.5 1044.1,593.5 1046.8,592.6 C1049.5,591.7 1055.1,590.1 1058.9,589.6 C1062.6,589.1 1070.3,588.4 1073.4,589.0 C1076.4,589.6 1078.9,592.1 1080.6,593.8 C1082.3,595.5 1083.7,599.5 1085.4,601.1 C1087.1,602.6 1091.5,603.3 1092.7,604.7 C1093.9,606.0 1093.3,608.9 1093.9,610.7 C1094.5,612.6 1096.9,616.5 1096.9,618.0 C1096.9,619.4 1095.2,621.2 1093.9,621.0 C1092.6,620.8 1090.4,617.4 1087.9,616.8 C1085.3,616.1 1079.2,616.2 1075.8,616.2 C1072.4,616.1 1066.7,616.6 1063.7,616.2 C1060.7,615.7 1056.6,614.2 1054.0,613.1 C1051.5,612.0 1047.4,609.5 1045.6,608.3 C1043.7,607.1 1041.6,606.4 1040.7,604.7 C1039.9,603.0 1038.7,597.9 1039.5,596.2 Z" fill="#4a9e39"/><g clip-path="url(#c12)"><ellipse cx="1063.7" cy="599.9" rx="12" ry="4" fill="#74c054" opacity="0.58" transform="rotate(5 1063.7 599.9)" filter="url(#hl)"/><ellipse cx="1089.1" cy="605.9" rx="3.4" ry="3.8" fill="#e4ecd8" opacity="0.72" transform="rotate(0 1089.1 605.9)" filter="url(#hl)"/><ellipse cx="1061.3" cy="613.1" rx="14" ry="1.6" fill="#38842e" opacity="0.50" transform="rotate(10 1061.3 613.1)" filter="url(#hl)"/><ellipse cx="1075.8" cy="591.4" rx="5" ry="2" fill="#a4cc8c" opacity="0.58" transform="rotate(20 1075.8 591.4)" filter="url(#hl)"/><path d="M1039.5,596.2 C1040.4,594.5 1044.1,593.5 1046.8,592.6 C1049.5,591.7 1055.1,590.1 1058.9,589.6 C1062.6,589.1 1070.3,588.4 1073.4,589.0 C1076.4,589.6 1078.9,592.1 1080.6,593.8 C1082.3,595.5 1083.7,599.5 1085.4,601.1 C1087.1,602.6 1091.5,603.3 1092.7,604.7 C1093.9,606.0 1093.3,608.9 1093.9,610.7 C1094.5,612.6 1096.9,616.5 1096.9,618.0 C1096.9,619.4 1095.2,621.2 1093.9,621.0 C1092.6,620.8 1090.4,617.4 1087.9,616.8 C1085.3,616.1 1079.2,616.2 1075.8,616.2 C1072.4,616.1 1066.7,616.6 1063.7,616.2 C1060.7,615.7 1056.6,614.2 1054.0,613.1 C1051.5,612.0 1047.4,609.5 1045.6,608.3 C1043.7,607.1 1041.6,606.4 1040.7,604.7 C1039.9,603.0 1038.7,597.9 1039.5,596.2 Z" fill="none" stroke="#84c464" stroke-width="1.2" opacity="0.4"/></g><path d="M1033.7,678.7 C1033.7,680.1 1033.0,684.5 1033.7,687.4 C1034.4,690.3 1036.4,693.7 1038.0,696.1 C1039.7,698.4 1041.7,700.3 1043.5,701.5 C1045.3,702.8 1048.0,703.3 1048.9,703.7" fill="none" stroke="#e6eed6" stroke-width="5.2" stroke-linecap="round" stroke-linejoin="round"/><path d="M1043.5,682.0 C1044.2,682.7 1046.0,685.1 1047.8,686.3 C1049.6,687.5 1052.5,688.5 1054.3,689.0 C1056.2,689.6 1058.0,689.5 1058.7,689.6" fill="none" stroke="#e4ecd4" stroke-width="4.2" stroke-linecap="round" stroke-linejoin="round"/><ellipse cx="1043.5" cy="672.2" rx="7" ry="6" fill="#d4e498" transform="rotate(0 1043.5 672.2)" />
</g>
<g filter="url(#soft)">
<path d="M1208.6,610.6 C1208.2,613.3 1207.0,621.2 1206.6,626.6 C1206.1,631.9 1205.8,637.4 1205.9,642.5 C1206.0,647.6 1206.2,652.5 1207.2,657.1 C1208.2,661.8 1210.0,666.6 1211.9,670.4 C1213.8,674.1 1216.6,677.4 1218.5,679.7 C1220.4,681.9 1222.4,683.2 1223.2,683.9" fill="none" stroke="#8c9e3e" stroke-width="15.4" stroke-linecap="round"/><path d="M1208.6,610.6 C1208.2,613.3 1207.0,621.2 1206.6,626.6 C1206.1,631.9 1205.8,637.4 1205.9,642.5 C1206.0,647.6 1206.2,652.5 1207.2,657.1 C1208.2,661.8 1210.0,666.6 1211.9,670.4 C1213.8,674.1 1216.6,677.4 1218.5,679.7 C1220.4,681.9 1222.4,683.2 1223.2,683.9" fill="none" stroke="#b6c856" stroke-width="11.4" stroke-linecap="round" filter="url(#hs)"/><path d="M1208.6,610.6 C1208.2,613.3 1207.0,621.2 1206.6,626.6 C1206.1,631.9 1205.8,637.4 1205.9,642.5 C1206.0,647.6 1206.2,652.5 1207.2,657.1 C1208.2,661.8 1210.0,666.6 1211.9,670.4 C1213.8,674.1 1216.6,677.4 1218.5,679.7 C1220.4,681.9 1222.4,683.2 1223.2,683.9" fill="none" stroke="#d4de84" stroke-width="4.6" stroke-linecap="round" opacity="0.55" filter="url(#hs)"/><path d="M1227.8,672.4 C1229.8,673.2 1235.8,675.4 1239.8,677.0 C1243.7,678.7 1248.0,680.1 1251.7,682.3 C1255.5,684.6 1260.6,689.0 1262.3,690.3" fill="none" stroke="#d8d8d0" stroke-width="2.8" stroke-linecap="round" stroke-linejoin="round"/><clipPath id="c13"><path d="M1131.4,572.9 C1131.8,572.1 1134.3,568.8 1137.0,568.3 C1139.6,567.8 1153.4,567.8 1158.2,568.0 C1163.0,568.3 1179.8,570.5 1184.8,570.7 C1189.7,570.9 1203.2,570.0 1207.3,569.9 C1211.5,569.7 1224.0,568.8 1226.2,569.3 C1228.3,569.8 1229.7,573.2 1228.9,574.9 C1228.0,576.6 1220.7,584.0 1218.0,586.2 C1215.2,588.5 1204.8,596.8 1201.4,597.5 C1197.9,598.2 1186.7,592.9 1183.4,593.2 C1180.2,593.6 1171.5,599.4 1168.8,600.8 C1166.2,602.3 1158.6,607.5 1156.9,607.6 C1155.1,607.7 1153.2,603.6 1151.6,601.5 C1150.0,599.4 1142.9,589.3 1140.9,586.9 C1139.0,584.4 1133.3,578.3 1132.3,576.9 C1131.3,575.5 1130.9,573.8 1131.4,572.9 Z"/></clipPath><path d="M1131.4,572.9 C1131.8,572.1 1134.3,568.8 1137.0,568.3 C1139.6,567.8 1153.4,567.8 1158.2,568.0 C1163.0,568.3 1179.8,570.5 1184.8,570.7 C1189.7,570.9 1203.2,570.0 1207.3,569.9 C1211.5,569.7 1224.0,568.8 1226.2,569.3 C1228.3,569.8 1229.7,573.2 1228.9,574.9 C1228.0,576.6 1220.7,584.0 1218.0,586.2 C1215.2,588.5 1204.8,596.8 1201.4,597.5 C1197.9,598.2 1186.7,592.9 1183.4,593.2 C1180.2,593.6 1171.5,599.4 1168.8,600.8 C1166.2,602.3 1158.6,607.5 1156.9,607.6 C1155.1,607.7 1153.2,603.6 1151.6,601.5 C1150.0,599.4 1142.9,589.3 1140.9,586.9 C1139.0,584.4 1133.3,578.3 1132.3,576.9 C1131.3,575.5 1130.9,573.8 1131.4,572.9 Z" fill="#4f7048"/><g clip-path="url(#c13)"><ellipse cx="1155.5" cy="580.2" rx="26" ry="9" fill="#8eac70" opacity="0.61" transform="rotate(12 1155.5 580.2)" filter="url(#hl)"/><ellipse cx="1162.2" cy="594.8" rx="11" ry="6" fill="#a6c062" opacity="0.68" transform="rotate(-35 1162.2 594.8)" filter="url(#hl)"/><ellipse cx="1142.3" cy="578.9" rx="8" ry="5" fill="#a2bc74" opacity="0.58" transform="rotate(40 1142.3 578.9)" filter="url(#hl)"/><ellipse cx="1194.1" cy="578.9" rx="14" ry="4" fill="#809e74" opacity="0.50" transform="rotate(8 1194.1 578.9)" filter="url(#hl)"/><ellipse cx="1216.6" cy="578.2" rx="8" ry="4" fill="#4e6e48" opacity="0.58" transform="rotate(-30 1216.6 578.2)" filter="url(#hl)"/><ellipse cx="1166.2" cy="599.5" rx="5" ry="1.4" fill="#d0e088" opacity="0.65" transform="rotate(-40 1166.2 599.5)" filter="url(#hl)"/><path d="M1131.4,572.9 C1131.8,572.1 1134.3,568.8 1137.0,568.3 C1139.6,567.8 1153.4,567.8 1158.2,568.0 C1163.0,568.3 1179.8,570.5 1184.8,570.7 C1189.7,570.9 1203.2,570.0 1207.3,569.9 C1211.5,569.7 1224.0,568.8 1226.2,569.3 C1228.3,569.8 1229.7,573.2 1228.9,574.9 C1228.0,576.6 1220.7,584.0 1218.0,586.2 C1215.2,588.5 1204.8,596.8 1201.4,597.5 C1197.9,598.2 1186.7,592.9 1183.4,593.2 C1180.2,593.6 1171.5,599.4 1168.8,600.8 C1166.2,602.3 1158.6,607.5 1156.9,607.6 C1155.1,607.7 1153.2,603.6 1151.6,601.5 C1150.0,599.4 1142.9,589.3 1140.9,586.9 C1139.0,584.4 1133.3,578.3 1132.3,576.9 C1131.3,575.5 1130.9,573.8 1131.4,572.9 Z" fill="none" stroke="#94ac80" stroke-width="1.2" opacity="0.4"/></g><clipPath id="c14"><path d="M1202.0,597.8 C1203.1,596.0 1215.5,591.8 1218.0,590.2 C1220.4,588.6 1224.9,582.4 1226.6,581.6 C1228.3,580.8 1232.9,581.6 1234.6,582.2 C1236.2,582.8 1241.4,586.4 1243.2,587.5 C1245.0,588.7 1249.6,592.8 1252.5,593.5 C1255.4,594.2 1269.8,594.0 1272.4,594.8 C1275.1,595.6 1278.0,599.8 1279.1,601.5 C1280.1,603.1 1282.3,609.4 1283.0,611.4 C1283.8,613.4 1286.2,620.1 1286.4,621.4 C1286.5,622.7 1286.6,624.9 1284.4,624.9 C1282.2,624.9 1268.4,621.9 1264.4,621.4 C1260.5,620.9 1248.4,620.2 1244.5,620.3 C1240.7,620.5 1228.7,622.9 1225.9,622.7 C1223.1,622.6 1218.5,620.2 1216.6,618.7 C1214.8,617.3 1208.8,610.2 1207.3,608.1 C1205.9,606.0 1201.0,599.6 1202.0,597.8 Z"/></clipPath><path d="M1202.0,597.8 C1203.1,596.0 1215.5,591.8 1218.0,590.2 C1220.4,588.6 1224.9,582.4 1226.6,581.6 C1228.3,580.8 1232.9,581.6 1234.6,582.2 C1236.2,582.8 1241.4,586.4 1243.2,587.5 C1245.0,588.7 1249.6,592.8 1252.5,593.5 C1255.4,594.2 1269.8,594.0 1272.4,594.8 C1275.1,595.6 1278.0,599.8 1279.1,601.5 C1280.1,603.1 1282.3,609.4 1283.0,611.4 C1283.8,613.4 1286.2,620.1 1286.4,621.4 C1286.5,622.7 1286.6,624.9 1284.4,624.9 C1282.2,624.9 1268.4,621.9 1264.4,621.4 C1260.5,620.9 1248.4,620.2 1244.5,620.3 C1240.7,620.5 1228.7,622.9 1225.9,622.7 C1223.1,622.6 1218.5,620.2 1216.6,618.7 C1214.8,617.3 1208.8,610.2 1207.3,608.1 C1205.9,606.0 1201.0,599.6 1202.0,597.8 Z" fill="#4a6a44"/><g clip-path="url(#c14)"><ellipse cx="1241.9" cy="600.2" rx="18" ry="6" fill="#86a478" opacity="0.58" transform="rotate(18 1241.9 600.2)" filter="url(#hl)"/><ellipse cx="1276.4" cy="609.4" rx="7" ry="10" fill="#a4b26c" opacity="0.68" transform="rotate(-20 1276.4 609.4)" filter="url(#hl)"/><ellipse cx="1237.9" cy="620.3" rx="20" ry="2" fill="#34542f" opacity="0.61" transform="rotate(2 1237.9 620.3)" filter="url(#hl)"/><ellipse cx="1214.0" cy="598.8" rx="6" ry="3" fill="#4e6e48" opacity="0.50" transform="rotate(40 1214.0 598.8)" filter="url(#hl)"/><path d="M1202.0,597.8 C1203.1,596.0 1215.5,591.8 1218.0,590.2 C1220.4,588.6 1224.9,582.4 1226.6,581.6 C1228.3,580.8 1232.9,581.6 1234.6,582.2 C1236.2,582.8 1241.4,586.4 1243.2,587.5 C1245.0,588.7 1249.6,592.8 1252.5,593.5 C1255.4,594.2 1269.8,594.0 1272.4,594.8 C1275.1,595.6 1278.0,599.8 1279.1,601.5 C1280.1,603.1 1282.3,609.4 1283.0,611.4 C1283.8,613.4 1286.2,620.1 1286.4,621.4 C1286.5,622.7 1286.6,624.9 1284.4,624.9 C1282.2,624.9 1268.4,621.9 1264.4,621.4 C1260.5,620.9 1248.4,620.2 1244.5,620.3 C1240.7,620.5 1228.7,622.9 1225.9,622.7 C1223.1,622.6 1218.5,620.2 1216.6,618.7 C1214.8,617.3 1208.8,610.2 1207.3,608.1 C1205.9,606.0 1201.0,599.6 1202.0,597.8 Z" fill="none" stroke="#90a87c" stroke-width="1.2" opacity="0.4"/></g><ellipse cx="1225.8" cy="685.0" rx="6" ry="7.4" fill="#d0d488" transform="rotate(25 1225.8 685.0)" />
</g>
<text x="1270.4" y="708" textLength="36" lengthAdjust="spacingAndGlyphs" style="font-family:'Liberation Sans',sans-serif;font-size:16.5px;fill:#d40f1e;stroke:#d40f1e;stroke-width:0.7px;" filter="url(#soft)">1mm</text>
<rect x="1275.4" y="713.6" width="9.4" height="3" fill="#e01020" filter="url(#soft)"/>
<text x="330.3" y="766.7" class="cl" text-anchor="middle" style="font-size:21.2px">Control</text>
<text x="525.5" y="766.7" class="cl" text-anchor="middle">8</text>
<text x="720.5" y="766.7" class="cl" text-anchor="middle">10</text>
<text x="863" y="766.7" class="cl" text-anchor="middle">12</text>
<text x="1042" y="766.7" class="cl" text-anchor="middle">14</text>
<text x="1226" y="766.7" class="cl" text-anchor="middle">16</text>
<line x1="487.3" y1="784.8" x2="1312" y2="784.8" stroke="#505050" stroke-width="2"/>
<text x="882.8" y="815.6" class="na" text-anchor="middle">NaCl (mM )</text>
</svg>
</body>
</html>
